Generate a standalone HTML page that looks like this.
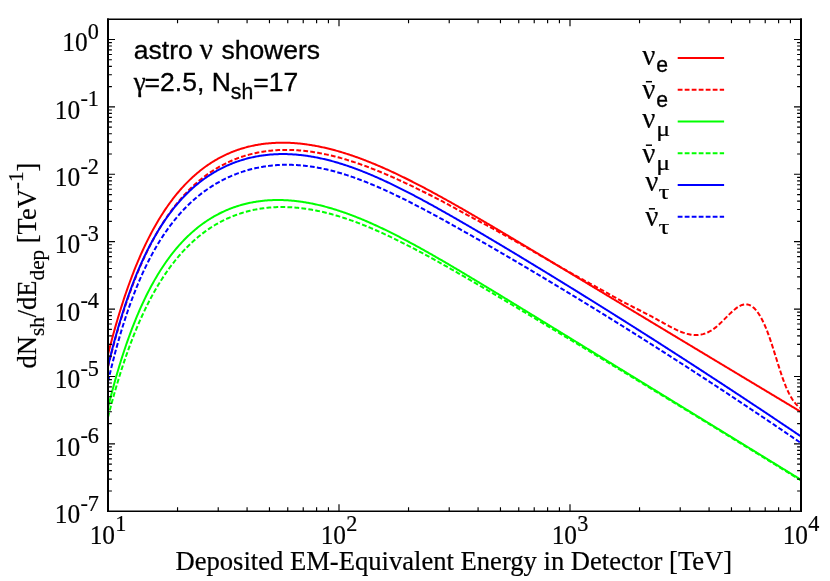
<!DOCTYPE html>
<html><head><meta charset="utf-8"><title>astro nu showers</title>
<style>
html,body{margin:0;padding:0;background:#fff;}
body{width:830px;height:581px;overflow:hidden;font-family:"Liberation Serif",serif;}
svg{display:block;}
text{fill:#000;stroke:#000;stroke-width:0.2px;}
.san text,.san{stroke-width:0.32px;}
.ser{font-family:"Liberation Serif",serif;}
.san{font-family:"Liberation Sans",sans-serif;}
</style></head><body>
<svg style="will-change:transform" width="830" height="581" viewBox="0 0 830 581">
<rect x="0" y="0" width="830" height="581" fill="#fff"/>
<defs><clipPath id="cp"><rect x="108.0" y="19.3" width="693.0" height="491.95"/></clipPath></defs>
<g clip-path="url(#cp)" fill="none" stroke-width="2" stroke-linejoin="round">
<path d="M108.0 354.48 L109.0 350.51 L110.0 346.61 L111.0 342.78 L112.0 339.02 L113.0 335.32 L114.0 331.69 L115.0 328.12 L116.0 324.62 L117.0 321.17 L118.0 317.79 L119.0 314.46 L120.0 311.19 L121.0 307.98 L122.0 304.83 L123.0 301.73 L124.0 298.68 L125.0 295.69 L126.0 292.74 L127.0 289.85 L128.0 287.01 L129.0 284.22 L130.0 281.47 L131.0 278.78 L132.0 276.12 L133.0 273.52 L134.0 270.96 L135.0 268.44 L136.0 265.96 L137.0 263.53 L138.0 261.14 L139.0 258.79 L140.0 256.48 L141.0 254.21 L142.0 251.97 L143.0 249.78 L144.0 247.62 L145.0 245.50 L146.0 243.42 L147.0 241.37 L148.0 239.35 L149.0 237.37 L150.0 235.43 L151.0 233.51 L152.0 231.63 L153.0 229.78 L154.0 227.96 L155.0 226.18 L156.0 224.42 L157.0 222.69 L158.0 220.99 L159.0 219.32 L160.0 217.68 L161.0 216.07 L162.0 214.49 L163.0 212.93 L164.0 211.39 L165.0 209.89 L166.0 208.41 L167.0 206.95 L168.0 205.52 L169.0 204.12 L170.0 202.74 L171.0 201.38 L172.0 200.04 L173.0 198.73 L174.0 197.44 L175.0 196.18 L176.0 194.93 L177.0 193.71 L178.0 192.51 L179.0 191.33 L180.0 190.17 L181.0 189.03 L182.0 187.90 L183.0 186.80 L184.0 185.72 L185.0 184.66 L186.0 183.62 L187.0 182.59 L188.0 181.59 L189.0 180.60 L190.0 179.63 L191.0 178.67 L192.0 177.74 L193.0 176.82 L194.0 175.92 L195.0 175.03 L196.0 174.16 L197.0 173.31 L198.0 172.47 L199.0 171.65 L200.0 170.84 L201.0 170.05 L202.0 169.27 L203.0 168.51 L204.0 167.76 L205.0 167.03 L206.0 166.31 L207.0 165.61 L208.0 164.91 L209.0 164.24 L210.0 163.57 L211.0 162.92 L212.0 162.28 L213.0 161.66 L214.0 161.05 L215.0 160.45 L216.0 159.86 L217.0 159.29 L218.0 158.72 L219.0 158.17 L220.0 157.64 L221.0 157.11 L222.0 156.59 L223.0 156.09 L224.0 155.60 L225.0 155.11 L226.0 154.64 L227.0 154.18 L228.0 153.73 L229.0 153.30 L230.0 152.87 L231.0 152.45 L232.0 152.04 L233.0 151.65 L234.0 151.26 L235.0 150.88 L236.0 150.52 L237.0 150.16 L238.0 149.81 L239.0 149.47 L240.0 149.14 L241.0 148.82 L242.0 148.51 L243.0 148.21 L244.0 147.92 L245.0 147.64 L246.0 147.36 L247.0 147.09 L248.0 146.84 L249.0 146.59 L250.0 146.35 L251.0 146.12 L252.0 145.89 L253.0 145.68 L254.0 145.47 L255.0 145.27 L256.0 145.08 L257.0 144.90 L258.0 144.72 L259.0 144.55 L260.0 144.39 L261.0 144.24 L262.0 144.10 L263.0 143.96 L264.0 143.83 L265.0 143.71 L266.0 143.59 L267.0 143.49 L268.0 143.39 L269.0 143.29 L270.0 143.21 L271.0 143.13 L272.0 143.05 L273.0 142.99 L274.0 142.93 L275.0 142.88 L276.0 142.83 L277.0 142.79 L278.0 142.76 L279.0 142.74 L280.0 142.72 L281.0 142.70 L282.0 142.70 L283.0 142.70 L284.0 142.70 L285.0 142.72 L286.0 142.73 L287.0 142.76 L288.0 142.79 L289.0 142.83 L290.0 142.87 L291.0 142.92 L292.0 142.97 L293.0 143.03 L294.0 143.10 L295.0 143.17 L296.0 143.25 L297.0 143.33 L298.0 143.42 L299.0 143.52 L300.0 143.62 L301.0 143.72 L302.0 143.84 L303.0 143.95 L304.0 144.07 L305.0 144.20 L306.0 144.33 L307.0 144.47 L308.0 144.62 L309.0 144.76 L310.0 144.92 L311.0 145.08 L312.0 145.24 L313.0 145.41 L314.0 145.58 L315.0 145.76 L316.0 145.95 L317.0 146.13 L318.0 146.33 L319.0 146.53 L320.0 146.73 L321.0 146.94 L322.0 147.15 L323.0 147.37 L324.0 147.59 L325.0 147.82 L326.0 148.05 L327.0 148.28 L328.0 148.52 L329.0 148.77 L330.0 149.02 L331.0 149.27 L332.0 149.53 L333.0 149.79 L334.0 150.06 L335.0 150.33 L336.0 150.60 L337.0 150.88 L338.0 151.16 L339.0 151.45 L340.0 151.74 L341.0 152.04 L342.0 152.34 L343.0 152.64 L344.0 152.95 L345.0 153.26 L346.0 153.58 L347.0 153.90 L348.0 154.22 L349.0 154.55 L350.0 154.88 L351.0 155.21 L352.0 155.55 L353.0 155.90 L354.0 156.24 L355.0 156.59 L356.0 156.94 L357.0 157.30 L358.0 157.66 L359.0 158.02 L360.0 158.39 L361.0 158.76 L362.0 159.14 L363.0 159.51 L364.0 159.89 L365.0 160.28 L366.0 160.66 L367.0 161.06 L368.0 161.45 L369.0 161.85 L370.0 162.25 L371.0 162.65 L372.0 163.06 L373.0 163.47 L374.0 163.88 L375.0 164.29 L376.0 164.71 L377.0 165.13 L378.0 165.56 L379.0 165.98 L380.0 166.41 L381.0 166.85 L382.0 167.28 L383.0 167.72 L384.0 168.16 L385.0 168.61 L386.0 169.05 L387.0 169.50 L388.0 169.95 L389.0 170.41 L390.0 170.87 L391.0 171.33 L392.0 171.79 L393.0 172.25 L394.0 172.72 L395.0 173.19 L396.0 173.66 L397.0 174.13 L398.0 174.61 L399.0 175.09 L400.0 175.57 L401.0 176.05 L402.0 176.54 L403.0 177.03 L404.0 177.52 L405.0 178.01 L406.0 178.50 L407.0 179.00 L408.0 179.50 L409.0 180.00 L410.0 180.50 L411.0 181.00 L412.0 181.51 L413.0 182.02 L414.0 182.53 L415.0 183.04 L416.0 183.55 L417.0 184.07 L418.0 184.58 L419.0 185.10 L420.0 185.62 L421.0 186.15 L422.0 186.67 L423.0 187.20 L424.0 187.72 L425.0 188.25 L426.0 188.78 L427.0 189.32 L428.0 189.85 L429.0 190.38 L430.0 190.92 L431.0 191.46 L432.0 192.00 L433.0 192.54 L434.0 193.08 L435.0 193.62 L436.0 194.17 L437.0 194.72 L438.0 195.26 L439.0 195.81 L440.0 196.36 L441.0 196.91 L442.0 197.47 L443.0 198.02 L444.0 198.58 L445.0 199.13 L446.0 199.69 L447.0 200.25 L448.0 200.81 L449.0 201.37 L450.0 201.93 L451.0 202.49 L452.0 203.06 L453.0 203.62 L454.0 204.19 L455.0 204.75 L456.0 205.32 L457.0 205.89 L458.0 206.46 L459.0 207.03 L460.0 207.60 L461.0 208.17 L462.0 208.74 L463.0 209.32 L464.0 209.89 L465.0 210.47 L466.0 211.04 L467.0 211.62 L468.0 212.20 L469.0 212.77 L470.0 213.35 L471.0 213.93 L472.0 214.51 L473.0 215.09 L474.0 215.67 L475.0 216.26 L476.0 216.84 L477.0 217.42 L478.0 218.01 L479.0 218.59 L480.0 219.17 L481.0 219.76 L482.0 220.35 L483.0 220.93 L484.0 221.52 L485.0 222.11 L486.0 222.70 L487.0 223.28 L488.0 223.87 L489.0 224.46 L490.0 225.05 L491.0 225.64 L492.0 226.23 L493.0 226.82 L494.0 227.42 L495.0 228.01 L496.0 228.60 L497.0 229.19 L498.0 229.78 L499.0 230.38 L500.0 230.97 L501.0 231.57 L502.0 232.16 L503.0 232.75 L504.0 233.35 L505.0 233.94 L506.0 234.54 L507.0 235.14 L508.0 235.73 L509.0 236.33 L510.0 236.92 L511.0 237.52 L512.0 238.12 L513.0 238.71 L514.0 239.31 L515.0 239.91 L516.0 240.51 L517.0 241.11 L518.0 241.70 L519.0 242.30 L520.0 242.90 L521.0 243.50 L522.0 244.10 L523.0 244.70 L524.0 245.30 L525.0 245.90 L526.0 246.50 L527.0 247.10 L528.0 247.70 L529.0 248.30 L530.0 248.90 L531.0 249.50 L532.0 250.10 L533.0 250.70 L534.0 251.30 L535.0 251.90 L536.0 252.50 L537.0 253.10 L538.0 253.70 L539.0 254.30 L540.0 254.90 L541.0 255.51 L542.0 256.11 L543.0 256.71 L544.0 257.31 L545.0 257.91 L546.0 258.51 L547.0 259.12 L548.0 259.72 L549.0 260.32 L550.0 260.92 L551.0 261.52 L552.0 262.13 L553.0 262.73 L554.0 263.33 L555.0 263.93 L556.0 264.53 L557.0 265.14 L558.0 265.74 L559.0 266.34 L560.0 266.94 L561.0 267.55 L562.0 268.15 L563.0 268.75 L564.0 269.35 L565.0 269.96 L566.0 270.56 L567.0 271.16 L568.0 271.76 L569.0 272.37 L570.0 272.97 L571.0 273.57 L572.0 274.18 L573.0 274.78 L574.0 275.38 L575.0 275.98 L576.0 276.59 L577.0 277.19 L578.0 277.79 L579.0 278.40 L580.0 279.00 L581.0 279.60 L582.0 280.20 L583.0 280.81 L584.0 281.41 L585.0 282.01 L586.0 282.62 L587.0 283.22 L588.0 283.82 L589.0 284.42 L590.0 285.03 L591.0 285.63 L592.0 286.23 L593.0 286.84 L594.0 287.44 L595.0 288.04 L596.0 288.64 L597.0 289.25 L598.0 289.85 L599.0 290.45 L600.0 291.06 L601.0 291.66 L602.0 292.26 L603.0 292.86 L604.0 293.47 L605.0 294.07 L606.0 294.67 L607.0 295.28 L608.0 295.88 L609.0 296.48 L610.0 297.08 L611.0 297.69 L612.0 298.29 L613.0 298.89 L614.0 299.49 L615.0 300.10 L616.0 300.70 L617.0 301.30 L618.0 301.91 L619.0 302.51 L620.0 303.11 L621.0 303.71 L622.0 304.32 L623.0 304.92 L624.0 305.52 L625.0 306.12 L626.0 306.73 L627.0 307.33 L628.0 307.93 L629.0 308.53 L630.0 309.14 L631.0 309.74 L632.0 310.34 L633.0 310.94 L634.0 311.55 L635.0 312.15 L636.0 312.75 L637.0 313.35 L638.0 313.96 L639.0 314.56 L640.0 315.16 L641.0 315.76 L642.0 316.37 L643.0 316.97 L644.0 317.57 L645.0 318.17 L646.0 318.77 L647.0 319.38 L648.0 319.98 L649.0 320.58 L650.0 321.18 L651.0 321.79 L652.0 322.39 L653.0 322.99 L654.0 323.59 L655.0 324.19 L656.0 324.80 L657.0 325.40 L658.0 326.00 L659.0 326.60 L660.0 327.21 L661.0 327.81 L662.0 328.41 L663.0 329.01 L664.0 329.61 L665.0 330.22 L666.0 330.82 L667.0 331.42 L668.0 332.02 L669.0 332.62 L670.0 333.22 L671.0 333.83 L672.0 334.43 L673.0 335.03 L674.0 335.63 L675.0 336.23 L676.0 336.84 L677.0 337.44 L678.0 338.04 L679.0 338.64 L680.0 339.24 L681.0 339.84 L682.0 340.45 L683.0 341.05 L684.0 341.65 L685.0 342.25 L686.0 342.85 L687.0 343.45 L688.0 344.06 L689.0 344.66 L690.0 345.26 L691.0 345.86 L692.0 346.46 L693.0 347.06 L694.0 347.67 L695.0 348.27 L696.0 348.87 L697.0 349.47 L698.0 350.07 L699.0 350.67 L700.0 351.27 L701.0 351.88 L702.0 352.48 L703.0 353.08 L704.0 353.68 L705.0 354.28 L706.0 354.88 L707.0 355.48 L708.0 356.08 L709.0 356.69 L710.0 357.29 L711.0 357.89 L712.0 358.49 L713.0 359.09 L714.0 359.69 L715.0 360.29 L716.0 360.89 L717.0 361.50 L718.0 362.10 L719.0 362.70 L720.0 363.30 L721.0 363.90 L722.0 364.50 L723.0 365.10 L724.0 365.70 L725.0 366.30 L726.0 366.90 L727.0 367.51 L728.0 368.11 L729.0 368.71 L730.0 369.31 L731.0 369.91 L732.0 370.51 L733.0 371.11 L734.0 371.71 L735.0 372.31 L736.0 372.91 L737.0 373.51 L738.0 374.11 L739.0 374.72 L740.0 375.32 L741.0 375.92 L742.0 376.52 L743.0 377.12 L744.0 377.72 L745.0 378.32 L746.0 378.92 L747.0 379.52 L748.0 380.12 L749.0 380.72 L750.0 381.32 L751.0 381.92 L752.0 382.52 L753.0 383.12 L754.0 383.72 L755.0 384.33 L756.0 384.93 L757.0 385.53 L758.0 386.13 L759.0 386.73 L760.0 387.33 L761.0 387.93 L762.0 388.53 L763.0 389.13 L764.0 389.73 L765.0 390.33 L766.0 390.93 L767.0 391.53 L768.0 392.13 L769.0 392.73 L770.0 393.33 L771.0 393.93 L772.0 394.53 L773.0 395.13 L774.0 395.73 L775.0 396.33 L776.0 396.93 L777.0 397.53 L778.0 398.13 L779.0 398.73 L780.0 399.33 L781.0 399.93 L782.0 400.53 L783.0 401.13 L784.0 401.73 L785.0 402.33 L786.0 402.93 L787.0 403.53 L788.0 404.13 L789.0 404.73 L790.0 405.33 L791.0 405.93 L792.0 406.53 L793.0 407.13 L794.0 407.73 L795.0 408.33 L796.0 408.93 L797.0 409.53 L798.0 410.13 L799.0 410.73 L800.0 411.33 L801.0 411.93" stroke="#f00"/>
<path d="M108.0 366.87 L109.0 362.80 L110.0 358.80 L111.0 354.87 L112.0 351.02 L113.0 347.23 L114.0 343.51 L115.0 339.86 L116.0 336.28 L117.0 332.76 L118.0 329.30 L119.0 325.91 L120.0 322.57 L121.0 319.30 L122.0 316.08 L123.0 312.92 L124.0 309.82 L125.0 306.77 L126.0 303.78 L127.0 300.83 L128.0 297.94 L129.0 295.10 L130.0 292.31 L131.0 289.57 L132.0 286.88 L133.0 284.23 L134.0 281.63 L135.0 279.08 L136.0 276.56 L137.0 274.10 L138.0 271.67 L139.0 269.29 L140.0 266.95 L141.0 264.64 L142.0 262.38 L143.0 260.16 L144.0 257.97 L145.0 255.83 L146.0 253.71 L147.0 251.64 L148.0 249.60 L149.0 247.59 L150.0 245.62 L151.0 243.69 L152.0 241.78 L153.0 239.91 L154.0 238.07 L155.0 236.26 L156.0 234.48 L157.0 232.74 L158.0 231.02 L159.0 229.33 L160.0 227.67 L161.0 226.04 L162.0 224.43 L163.0 222.85 L164.0 221.30 L165.0 219.78 L166.0 218.28 L167.0 216.80 L168.0 215.36 L169.0 213.93 L170.0 212.53 L171.0 211.16 L172.0 209.80 L173.0 208.47 L174.0 207.17 L175.0 205.88 L176.0 204.62 L177.0 203.38 L178.0 202.16 L179.0 200.96 L180.0 199.78 L181.0 198.62 L182.0 197.48 L183.0 196.36 L184.0 195.26 L185.0 194.18 L186.0 193.12 L187.0 192.07 L188.0 191.05 L189.0 190.04 L190.0 189.05 L191.0 188.08 L192.0 187.12 L193.0 186.18 L194.0 185.26 L195.0 184.35 L196.0 183.46 L197.0 182.59 L198.0 181.73 L199.0 180.89 L200.0 180.06 L201.0 179.25 L202.0 178.45 L203.0 177.67 L204.0 176.90 L205.0 176.15 L206.0 175.40 L207.0 174.68 L208.0 173.97 L209.0 173.27 L210.0 172.58 L211.0 171.91 L212.0 171.25 L213.0 170.60 L214.0 169.96 L215.0 169.34 L216.0 168.73 L217.0 168.13 L218.0 167.55 L219.0 166.97 L220.0 166.41 L221.0 165.86 L222.0 165.32 L223.0 164.79 L224.0 164.28 L225.0 163.77 L226.0 163.28 L227.0 162.79 L228.0 162.32 L229.0 161.86 L230.0 161.40 L231.0 160.96 L232.0 160.53 L233.0 160.11 L234.0 159.70 L235.0 159.29 L236.0 158.90 L237.0 158.52 L238.0 158.15 L239.0 157.78 L240.0 157.43 L241.0 157.08 L242.0 156.75 L243.0 156.42 L244.0 156.10 L245.0 155.80 L246.0 155.50 L247.0 155.20 L248.0 154.92 L249.0 154.65 L250.0 154.38 L251.0 154.13 L252.0 153.88 L253.0 153.64 L254.0 153.40 L255.0 153.18 L256.0 152.96 L257.0 152.75 L258.0 152.55 L259.0 152.36 L260.0 152.18 L261.0 152.00 L262.0 151.83 L263.0 151.67 L264.0 151.51 L265.0 151.37 L266.0 151.23 L267.0 151.10 L268.0 150.97 L269.0 150.85 L270.0 150.74 L271.0 150.64 L272.0 150.54 L273.0 150.45 L274.0 150.37 L275.0 150.29 L276.0 150.22 L277.0 150.16 L278.0 150.10 L279.0 150.06 L280.0 150.01 L281.0 149.98 L282.0 149.95 L283.0 149.92 L284.0 149.91 L285.0 149.90 L286.0 149.89 L287.0 149.89 L288.0 149.90 L289.0 149.92 L290.0 149.94 L291.0 149.96 L292.0 150.00 L293.0 150.04 L294.0 150.08 L295.0 150.13 L296.0 150.19 L297.0 150.25 L298.0 150.32 L299.0 150.39 L300.0 150.47 L301.0 150.56 L302.0 150.65 L303.0 150.74 L304.0 150.84 L305.0 150.95 L306.0 151.06 L307.0 151.18 L308.0 151.30 L309.0 151.43 L310.0 151.57 L311.0 151.71 L312.0 151.85 L313.0 152.00 L314.0 152.15 L315.0 152.31 L316.0 152.48 L317.0 152.65 L318.0 152.82 L319.0 153.00 L320.0 153.19 L321.0 153.37 L322.0 153.57 L323.0 153.77 L324.0 153.97 L325.0 154.18 L326.0 154.39 L327.0 154.61 L328.0 154.83 L329.0 155.06 L330.0 155.29 L331.0 155.52 L332.0 155.76 L333.0 156.01 L334.0 156.26 L335.0 156.51 L336.0 156.77 L337.0 157.03 L338.0 157.30 L339.0 157.57 L340.0 157.84 L341.0 158.12 L342.0 158.40 L343.0 158.69 L344.0 158.98 L345.0 159.27 L346.0 159.57 L347.0 159.87 L348.0 160.18 L349.0 160.49 L350.0 160.80 L351.0 161.12 L352.0 161.44 L353.0 161.76 L354.0 162.09 L355.0 162.42 L356.0 162.76 L357.0 163.10 L358.0 163.44 L359.0 163.79 L360.0 164.14 L361.0 164.49 L362.0 164.85 L363.0 165.21 L364.0 165.57 L365.0 165.93 L366.0 166.30 L367.0 166.68 L368.0 167.05 L369.0 167.43 L370.0 167.81 L371.0 168.20 L372.0 168.58 L373.0 168.97 L374.0 169.37 L375.0 169.76 L376.0 170.16 L377.0 170.56 L378.0 170.97 L379.0 171.38 L380.0 171.79 L381.0 172.20 L382.0 172.61 L383.0 173.03 L384.0 173.45 L385.0 173.88 L386.0 174.30 L387.0 174.73 L388.0 175.16 L389.0 175.59 L390.0 176.03 L391.0 176.47 L392.0 176.91 L393.0 177.35 L394.0 177.79 L395.0 178.24 L396.0 178.69 L397.0 179.14 L398.0 179.59 L399.0 180.05 L400.0 180.51 L401.0 180.97 L402.0 181.43 L403.0 181.89 L404.0 182.36 L405.0 182.82 L406.0 183.29 L407.0 183.76 L408.0 184.23 L409.0 184.71 L410.0 185.19 L411.0 185.66 L412.0 186.14 L413.0 186.62 L414.0 187.11 L415.0 187.59 L416.0 188.08 L417.0 188.56 L418.0 189.05 L419.0 189.54 L420.0 190.04 L421.0 190.53 L422.0 191.02 L423.0 191.52 L424.0 192.01 L425.0 192.51 L426.0 193.01 L427.0 193.51 L428.0 194.01 L429.0 194.51 L430.0 195.01 L431.0 195.51 L432.0 196.02 L433.0 196.53 L434.0 197.04 L435.0 197.55 L436.0 198.07 L437.0 198.58 L438.0 199.10 L439.0 199.62 L440.0 200.15 L441.0 200.67 L442.0 201.20 L443.0 201.73 L444.0 202.27 L445.0 202.80 L446.0 203.34 L447.0 203.88 L448.0 204.42 L449.0 204.96 L450.0 205.51 L451.0 206.05 L452.0 206.60 L453.0 207.14 L454.0 207.69 L455.0 208.24 L456.0 208.78 L457.0 209.33 L458.0 209.88 L459.0 210.43 L460.0 210.98 L461.0 211.52 L462.0 212.07 L463.0 212.62 L464.0 213.16 L465.0 213.71 L466.0 214.25 L467.0 214.79 L468.0 215.33 L469.0 215.87 L470.0 216.40 L471.0 216.94 L472.0 217.48 L473.0 218.01 L474.0 218.55 L475.0 219.08 L476.0 219.62 L477.0 220.15 L478.0 220.68 L479.0 221.22 L480.0 221.75 L481.0 222.28 L482.0 222.82 L483.0 223.35 L484.0 223.89 L485.0 224.42 L486.0 224.96 L487.0 225.49 L488.0 226.03 L489.0 226.57 L490.0 227.11 L491.0 227.65 L492.0 228.19 L493.0 228.73 L494.0 229.27 L495.0 229.82 L496.0 230.37 L497.0 230.91 L498.0 231.46 L499.0 232.02 L500.0 232.57 L501.0 233.13 L502.0 233.68 L503.0 234.24 L504.0 234.80 L505.0 235.36 L506.0 235.91 L507.0 236.47 L508.0 237.03 L509.0 237.59 L510.0 238.16 L511.0 238.72 L512.0 239.28 L513.0 239.84 L514.0 240.41 L515.0 240.97 L516.0 241.53 L517.0 242.10 L518.0 242.67 L519.0 243.23 L520.0 243.80 L521.0 244.37 L522.0 244.93 L523.0 245.50 L524.0 246.07 L525.0 246.64 L526.0 247.21 L527.0 247.78 L528.0 248.35 L529.0 248.92 L530.0 249.50 L531.0 250.07 L532.0 250.64 L533.0 251.22 L534.0 251.79 L535.0 252.37 L536.0 252.95 L537.0 253.53 L538.0 254.10 L539.0 254.68 L540.0 255.26 L541.0 255.84 L542.0 256.42 L543.0 257.00 L544.0 257.58 L545.0 258.16 L546.0 258.74 L547.0 259.32 L548.0 259.90 L549.0 260.48 L550.0 261.05 L551.0 261.63 L552.0 262.21 L553.0 262.78 L554.0 263.36 L555.0 263.93 L556.0 264.51 L557.0 265.08 L558.0 265.65 L559.0 266.22 L560.0 266.79 L561.0 267.37 L562.0 267.94 L563.0 268.51 L564.0 269.08 L565.0 269.64 L566.0 270.21 L567.0 270.78 L568.0 271.35 L569.0 271.92 L570.0 272.48 L571.0 273.05 L572.0 273.61 L573.0 274.17 L574.0 274.74 L575.0 275.30 L576.0 275.86 L577.0 276.42 L578.0 276.98 L579.0 277.54 L580.0 278.10 L581.0 278.65 L582.0 279.21 L583.0 279.75 L584.0 280.30 L585.0 280.84 L586.0 281.38 L587.0 281.92 L588.0 282.46 L589.0 283.00 L590.0 283.53 L591.0 284.07 L592.0 284.61 L593.0 285.14 L594.0 285.68 L595.0 286.22 L596.0 286.76 L597.0 287.31 L598.0 287.85 L599.0 288.40 L600.0 288.96 L601.0 289.51 L602.0 290.07 L603.0 290.63 L604.0 291.20 L605.0 291.76 L606.0 292.33 L607.0 292.89 L608.0 293.46 L609.0 294.03 L610.0 294.60 L611.0 295.17 L612.0 295.73 L613.0 296.30 L614.0 296.86 L615.0 297.43 L616.0 297.99 L617.0 298.55 L618.0 299.11 L619.0 299.66 L620.0 300.21 L621.0 300.76 L622.0 301.30 L623.0 301.83 L624.0 302.36 L625.0 302.89 L626.0 303.41 L627.0 303.93 L628.0 304.45 L629.0 304.96 L630.0 305.47 L631.0 305.98 L632.0 306.48 L633.0 306.99 L634.0 307.49 L635.0 307.99 L636.0 308.50 L637.0 309.00 L638.0 309.50 L639.0 310.00 L640.0 310.50 L641.0 311.01 L642.0 311.51 L643.0 312.02 L644.0 312.53 L645.0 313.04 L646.0 313.56 L647.0 314.08 L648.0 314.60 L649.0 315.13 L650.0 315.66 L651.0 316.20 L652.0 316.74 L653.0 317.28 L654.0 317.83 L655.0 318.37 L656.0 318.92 L657.0 319.47 L658.0 320.02 L659.0 320.57 L660.0 321.12 L661.0 321.66 L662.0 322.21 L663.0 322.75 L664.0 323.28 L665.0 323.82 L666.0 324.37 L667.0 324.92 L668.0 325.47 L669.0 326.01 L670.0 326.55 L671.0 327.08 L672.0 327.61 L673.0 328.12 L674.0 328.63 L675.0 329.13 L676.0 329.61 L677.0 330.08 L678.0 330.54 L679.0 330.98 L680.0 331.41 L681.0 331.82 L682.0 332.21 L683.0 332.58 L684.0 332.93 L685.0 333.26 L686.0 333.56 L687.0 333.84 L688.0 334.10 L689.0 334.32 L690.0 334.52 L691.0 334.70 L692.0 334.84 L693.0 334.95 L694.0 335.03 L695.0 335.08 L696.0 335.09 L697.0 335.06 L698.0 335.00 L699.0 334.91 L700.0 334.77 L701.0 334.59 L702.0 334.38 L703.0 334.12 L704.0 333.82 L705.0 333.49 L706.0 333.11 L707.0 332.69 L708.0 332.24 L709.0 331.74 L710.0 331.20 L711.0 330.62 L712.0 330.00 L713.0 329.34 L714.0 328.64 L715.0 327.90 L716.0 327.12 L717.0 326.30 L718.0 325.43 L719.0 324.53 L720.0 323.60 L721.0 322.64 L722.0 321.66 L723.0 320.67 L724.0 319.66 L725.0 318.64 L726.0 317.62 L727.0 316.61 L728.0 315.60 L729.0 314.60 L730.0 313.63 L731.0 312.67 L732.0 311.74 L733.0 310.85 L734.0 309.99 L735.0 309.17 L736.0 308.40 L737.0 307.68 L738.0 307.02 L739.0 306.42 L740.0 305.89 L741.0 305.42 L742.0 305.04 L743.0 304.73 L744.0 304.51 L745.0 304.38 L746.0 304.35 L747.0 304.42 L748.0 304.59 L749.0 304.87 L750.0 305.27 L751.0 305.79 L752.0 306.42 L753.0 307.18 L754.0 308.06 L755.0 309.06 L756.0 310.19 L757.0 311.43 L758.0 312.80 L759.0 314.29 L760.0 315.90 L761.0 317.64 L762.0 319.50 L763.0 321.48 L764.0 323.59 L765.0 325.82 L766.0 328.18 L767.0 330.67 L768.0 333.28 L769.0 336.01 L770.0 338.87 L771.0 341.82 L772.0 344.86 L773.0 347.97 L774.0 351.14 L775.0 354.33 L776.0 357.54 L777.0 360.75 L778.0 363.95 L779.0 367.11 L780.0 370.21 L781.0 373.25 L782.0 376.20 L783.0 379.05 L784.0 381.78 L785.0 384.37 L786.0 386.83 L787.0 389.14 L788.0 391.31 L789.0 393.36 L790.0 395.27 L791.0 397.05 L792.0 398.71 L793.0 400.24 L794.0 401.64 L795.0 402.93 L796.0 404.10 L797.0 405.16 L798.0 406.10 L799.0 406.93 L800.0 407.65 L801.0 408.27" stroke="#f00" stroke-dasharray="4.8 2.2"/>
<path d="M108.0 407.59 L109.0 403.55 L110.0 399.59 L111.0 395.71 L112.0 391.89 L113.0 388.15 L114.0 384.47 L115.0 380.87 L116.0 377.33 L117.0 373.85 L118.0 370.44 L119.0 367.09 L120.0 363.80 L121.0 360.57 L122.0 357.41 L123.0 354.29 L124.0 351.24 L125.0 348.24 L126.0 345.30 L127.0 342.40 L128.0 339.56 L129.0 336.78 L130.0 334.04 L131.0 331.35 L132.0 328.71 L133.0 326.11 L134.0 323.57 L135.0 321.07 L136.0 318.61 L137.0 316.19 L138.0 313.82 L139.0 311.50 L140.0 309.21 L141.0 306.96 L142.0 304.76 L143.0 302.59 L144.0 300.46 L145.0 298.37 L146.0 296.31 L147.0 294.29 L148.0 292.31 L149.0 290.36 L150.0 288.45 L151.0 286.57 L152.0 284.72 L153.0 282.91 L154.0 281.13 L155.0 279.37 L156.0 277.65 L157.0 275.96 L158.0 274.30 L159.0 272.67 L160.0 271.07 L161.0 269.49 L162.0 267.95 L163.0 266.43 L164.0 264.94 L165.0 263.47 L166.0 262.03 L167.0 260.61 L168.0 259.22 L169.0 257.86 L170.0 256.52 L171.0 255.20 L172.0 253.90 L173.0 252.63 L174.0 251.38 L175.0 250.16 L176.0 248.95 L177.0 247.77 L178.0 246.61 L179.0 245.46 L180.0 244.34 L181.0 243.24 L182.0 242.16 L183.0 241.10 L184.0 240.06 L185.0 239.03 L186.0 238.03 L187.0 237.04 L188.0 236.08 L189.0 235.13 L190.0 234.19 L191.0 233.28 L192.0 232.38 L193.0 231.50 L194.0 230.63 L195.0 229.78 L196.0 228.95 L197.0 228.13 L198.0 227.33 L199.0 226.55 L200.0 225.78 L201.0 225.02 L202.0 224.28 L203.0 223.55 L204.0 222.84 L205.0 222.14 L206.0 221.46 L207.0 220.79 L208.0 220.13 L209.0 219.49 L210.0 218.86 L211.0 218.24 L212.0 217.63 L213.0 217.04 L214.0 216.46 L215.0 215.90 L216.0 215.34 L217.0 214.80 L218.0 214.27 L219.0 213.75 L220.0 213.24 L221.0 212.75 L222.0 212.26 L223.0 211.79 L224.0 211.33 L225.0 210.88 L226.0 210.44 L227.0 210.01 L228.0 209.59 L229.0 209.18 L230.0 208.78 L231.0 208.39 L232.0 208.02 L233.0 207.65 L234.0 207.29 L235.0 206.94 L236.0 206.61 L237.0 206.28 L238.0 205.96 L239.0 205.65 L240.0 205.35 L241.0 205.06 L242.0 204.77 L243.0 204.50 L244.0 204.24 L245.0 203.98 L246.0 203.73 L247.0 203.50 L248.0 203.27 L249.0 203.05 L250.0 202.83 L251.0 202.63 L252.0 202.43 L253.0 202.25 L254.0 202.07 L255.0 201.90 L256.0 201.73 L257.0 201.58 L258.0 201.43 L259.0 201.29 L260.0 201.16 L261.0 201.03 L262.0 200.92 L263.0 200.81 L264.0 200.71 L265.0 200.61 L266.0 200.52 L267.0 200.44 L268.0 200.37 L269.0 200.31 L270.0 200.25 L271.0 200.20 L272.0 200.15 L273.0 200.11 L274.0 200.08 L275.0 200.06 L276.0 200.04 L277.0 200.03 L278.0 200.03 L279.0 200.03 L280.0 200.04 L281.0 200.06 L282.0 200.08 L283.0 200.11 L284.0 200.15 L285.0 200.19 L286.0 200.24 L287.0 200.29 L288.0 200.35 L289.0 200.42 L290.0 200.49 L291.0 200.57 L292.0 200.66 L293.0 200.75 L294.0 200.85 L295.0 200.95 L296.0 201.06 L297.0 201.17 L298.0 201.30 L299.0 201.42 L300.0 201.55 L301.0 201.69 L302.0 201.84 L303.0 201.98 L304.0 202.14 L305.0 202.30 L306.0 202.47 L307.0 202.64 L308.0 202.81 L309.0 202.99 L310.0 203.18 L311.0 203.37 L312.0 203.57 L313.0 203.78 L314.0 203.98 L315.0 204.20 L316.0 204.42 L317.0 204.64 L318.0 204.87 L319.0 205.10 L320.0 205.34 L321.0 205.58 L322.0 205.83 L323.0 206.08 L324.0 206.34 L325.0 206.60 L326.0 206.87 L327.0 207.14 L328.0 207.42 L329.0 207.70 L330.0 207.99 L331.0 208.28 L332.0 208.57 L333.0 208.87 L334.0 209.18 L335.0 209.49 L336.0 209.80 L337.0 210.12 L338.0 210.44 L339.0 210.76 L340.0 211.09 L341.0 211.43 L342.0 211.76 L343.0 212.11 L344.0 212.45 L345.0 212.80 L346.0 213.16 L347.0 213.52 L348.0 213.88 L349.0 214.24 L350.0 214.61 L351.0 214.99 L352.0 215.37 L353.0 215.75 L354.0 216.13 L355.0 216.52 L356.0 216.91 L357.0 217.31 L358.0 217.71 L359.0 218.11 L360.0 218.52 L361.0 218.93 L362.0 219.34 L363.0 219.76 L364.0 220.18 L365.0 220.61 L366.0 221.03 L367.0 221.46 L368.0 221.90 L369.0 222.33 L370.0 222.77 L371.0 223.22 L372.0 223.66 L373.0 224.11 L374.0 224.56 L375.0 225.02 L376.0 225.47 L377.0 225.94 L378.0 226.40 L379.0 226.87 L380.0 227.33 L381.0 227.81 L382.0 228.28 L383.0 228.76 L384.0 229.24 L385.0 229.72 L386.0 230.21 L387.0 230.69 L388.0 231.18 L389.0 231.68 L390.0 232.17 L391.0 232.67 L392.0 233.17 L393.0 233.67 L394.0 234.18 L395.0 234.68 L396.0 235.19 L397.0 235.70 L398.0 236.22 L399.0 236.73 L400.0 237.25 L401.0 237.77 L402.0 238.29 L403.0 238.81 L404.0 239.34 L405.0 239.87 L406.0 240.40 L407.0 240.93 L408.0 241.46 L409.0 242.00 L410.0 242.53 L411.0 243.07 L412.0 243.61 L413.0 244.15 L414.0 244.70 L415.0 245.24 L416.0 245.79 L417.0 246.34 L418.0 246.89 L419.0 247.44 L420.0 247.99 L421.0 248.55 L422.0 249.11 L423.0 249.66 L424.0 250.22 L425.0 250.78 L426.0 251.34 L427.0 251.91 L428.0 252.47 L429.0 253.04 L430.0 253.60 L431.0 254.17 L432.0 254.74 L433.0 255.31 L434.0 255.88 L435.0 256.46 L436.0 257.03 L437.0 257.60 L438.0 258.18 L439.0 258.76 L440.0 259.33 L441.0 259.91 L442.0 260.49 L443.0 261.07 L444.0 261.66 L445.0 262.24 L446.0 262.82 L447.0 263.41 L448.0 263.99 L449.0 264.58 L450.0 265.16 L451.0 265.75 L452.0 266.34 L453.0 266.93 L454.0 267.52 L455.0 268.11 L456.0 268.70 L457.0 269.29 L458.0 269.89 L459.0 270.48 L460.0 271.07 L461.0 271.67 L462.0 272.26 L463.0 272.86 L464.0 273.45 L465.0 274.05 L466.0 274.65 L467.0 275.25 L468.0 275.84 L469.0 276.44 L470.0 277.04 L471.0 277.64 L472.0 278.24 L473.0 278.84 L474.0 279.44 L475.0 280.05 L476.0 280.65 L477.0 281.25 L478.0 281.85 L479.0 282.46 L480.0 283.06 L481.0 283.66 L482.0 284.27 L483.0 284.87 L484.0 285.48 L485.0 286.08 L486.0 286.69 L487.0 287.29 L488.0 287.90 L489.0 288.51 L490.0 289.11 L491.0 289.72 L492.0 290.33 L493.0 290.93 L494.0 291.54 L495.0 292.15 L496.0 292.76 L497.0 293.37 L498.0 293.97 L499.0 294.58 L500.0 295.19 L501.0 295.80 L502.0 296.41 L503.0 297.02 L504.0 297.63 L505.0 298.24 L506.0 298.85 L507.0 299.46 L508.0 300.07 L509.0 300.68 L510.0 301.29 L511.0 301.90 L512.0 302.51 L513.0 303.12 L514.0 303.73 L515.0 304.34 L516.0 304.96 L517.0 305.57 L518.0 306.18 L519.0 306.79 L520.0 307.40 L521.0 308.01 L522.0 308.63 L523.0 309.24 L524.0 309.85 L525.0 310.46 L526.0 311.07 L527.0 311.69 L528.0 312.30 L529.0 312.91 L530.0 313.52 L531.0 314.13 L532.0 314.75 L533.0 315.36 L534.0 315.97 L535.0 316.59 L536.0 317.20 L537.0 317.81 L538.0 318.42 L539.0 319.04 L540.0 319.65 L541.0 320.26 L542.0 320.88 L543.0 321.49 L544.0 322.10 L545.0 322.71 L546.0 323.33 L547.0 323.94 L548.0 324.55 L549.0 325.17 L550.0 325.78 L551.0 326.39 L552.0 327.01 L553.0 327.62 L554.0 328.23 L555.0 328.85 L556.0 329.46 L557.0 330.07 L558.0 330.69 L559.0 331.30 L560.0 331.91 L561.0 332.53 L562.0 333.14 L563.0 333.75 L564.0 334.37 L565.0 334.98 L566.0 335.59 L567.0 336.21 L568.0 336.82 L569.0 337.44 L570.0 338.05 L571.0 338.66 L572.0 339.28 L573.0 339.89 L574.0 340.50 L575.0 341.12 L576.0 341.73 L577.0 342.34 L578.0 342.96 L579.0 343.57 L580.0 344.18 L581.0 344.80 L582.0 345.41 L583.0 346.03 L584.0 346.64 L585.0 347.25 L586.0 347.87 L587.0 348.48 L588.0 349.09 L589.0 349.71 L590.0 350.32 L591.0 350.93 L592.0 351.55 L593.0 352.16 L594.0 352.78 L595.0 353.39 L596.0 354.00 L597.0 354.62 L598.0 355.23 L599.0 355.84 L600.0 356.46 L601.0 357.07 L602.0 357.68 L603.0 358.30 L604.0 358.91 L605.0 359.53 L606.0 360.14 L607.0 360.75 L608.0 361.37 L609.0 361.98 L610.0 362.59 L611.0 363.21 L612.0 363.82 L613.0 364.44 L614.0 365.05 L615.0 365.66 L616.0 366.28 L617.0 366.89 L618.0 367.50 L619.0 368.12 L620.0 368.73 L621.0 369.34 L622.0 369.96 L623.0 370.57 L624.0 371.19 L625.0 371.80 L626.0 372.41 L627.0 373.03 L628.0 373.64 L629.0 374.25 L630.0 374.87 L631.0 375.48 L632.0 376.09 L633.0 376.71 L634.0 377.32 L635.0 377.94 L636.0 378.55 L637.0 379.16 L638.0 379.78 L639.0 380.39 L640.0 381.00 L641.0 381.62 L642.0 382.23 L643.0 382.84 L644.0 383.46 L645.0 384.07 L646.0 384.69 L647.0 385.30 L648.0 385.91 L649.0 386.53 L650.0 387.14 L651.0 387.75 L652.0 388.37 L653.0 388.98 L654.0 389.59 L655.0 390.21 L656.0 390.82 L657.0 391.44 L658.0 392.05 L659.0 392.66 L660.0 393.28 L661.0 393.89 L662.0 394.50 L663.0 395.12 L664.0 395.73 L665.0 396.34 L666.0 396.96 L667.0 397.57 L668.0 398.18 L669.0 398.80 L670.0 399.41 L671.0 400.03 L672.0 400.64 L673.0 401.25 L674.0 401.87 L675.0 402.48 L676.0 403.09 L677.0 403.71 L678.0 404.32 L679.0 404.93 L680.0 405.55 L681.0 406.16 L682.0 406.77 L683.0 407.39 L684.0 408.00 L685.0 408.61 L686.0 409.23 L687.0 409.84 L688.0 410.46 L689.0 411.07 L690.0 411.68 L691.0 412.30 L692.0 412.91 L693.0 413.52 L694.0 414.14 L695.0 414.75 L696.0 415.36 L697.0 415.98 L698.0 416.59 L699.0 417.20 L700.0 417.82 L701.0 418.43 L702.0 419.05 L703.0 419.66 L704.0 420.27 L705.0 420.89 L706.0 421.50 L707.0 422.11 L708.0 422.73 L709.0 423.34 L710.0 423.95 L711.0 424.57 L712.0 425.18 L713.0 425.79 L714.0 426.41 L715.0 427.02 L716.0 427.63 L717.0 428.25 L718.0 428.86 L719.0 429.47 L720.0 430.09 L721.0 430.70 L722.0 431.31 L723.0 431.93 L724.0 432.54 L725.0 433.16 L726.0 433.77 L727.0 434.38 L728.0 435.00 L729.0 435.61 L730.0 436.22 L731.0 436.84 L732.0 437.45 L733.0 438.06 L734.0 438.68 L735.0 439.29 L736.0 439.90 L737.0 440.52 L738.0 441.13 L739.0 441.74 L740.0 442.36 L741.0 442.97 L742.0 443.58 L743.0 444.20 L744.0 444.81 L745.0 445.42 L746.0 446.04 L747.0 446.65 L748.0 447.26 L749.0 447.88 L750.0 448.49 L751.0 449.11 L752.0 449.72 L753.0 450.33 L754.0 450.95 L755.0 451.56 L756.0 452.17 L757.0 452.79 L758.0 453.40 L759.0 454.01 L760.0 454.63 L761.0 455.24 L762.0 455.85 L763.0 456.47 L764.0 457.08 L765.0 457.69 L766.0 458.31 L767.0 458.92 L768.0 459.53 L769.0 460.15 L770.0 460.76 L771.0 461.37 L772.0 461.99 L773.0 462.60 L774.0 463.21 L775.0 463.83 L776.0 464.44 L777.0 465.05 L778.0 465.67 L779.0 466.28 L780.0 466.89 L781.0 467.51 L782.0 468.12 L783.0 468.73 L784.0 469.35 L785.0 469.96 L786.0 470.57 L787.0 471.19 L788.0 471.80 L789.0 472.41 L790.0 473.03 L791.0 473.64 L792.0 474.25 L793.0 474.87 L794.0 475.48 L795.0 476.09 L796.0 476.71 L797.0 477.32 L798.0 477.93 L799.0 478.55 L800.0 479.16 L801.0 479.77" stroke="#0f0"/>
<path d="M108.0 417.19 L109.0 413.27 L110.0 409.42 L111.0 405.63 L112.0 401.92 L113.0 398.26 L114.0 394.68 L115.0 391.15 L116.0 387.69 L117.0 384.29 L118.0 380.95 L119.0 377.67 L120.0 374.44 L121.0 371.27 L122.0 368.16 L123.0 365.10 L124.0 362.09 L125.0 359.13 L126.0 356.23 L127.0 353.38 L128.0 350.57 L129.0 347.82 L130.0 345.11 L131.0 342.44 L132.0 339.83 L133.0 337.26 L134.0 334.73 L135.0 332.24 L136.0 329.80 L137.0 327.40 L138.0 325.04 L139.0 322.72 L140.0 320.44 L141.0 318.19 L142.0 315.99 L143.0 313.82 L144.0 311.69 L145.0 309.59 L146.0 307.54 L147.0 305.51 L148.0 303.52 L149.0 301.56 L150.0 299.64 L151.0 297.75 L152.0 295.89 L153.0 294.06 L154.0 292.26 L155.0 290.49 L156.0 288.75 L157.0 287.04 L158.0 285.36 L159.0 283.71 L160.0 282.09 L161.0 280.49 L162.0 278.92 L163.0 277.37 L164.0 275.85 L165.0 274.36 L166.0 272.89 L167.0 271.45 L168.0 270.03 L169.0 268.64 L170.0 267.27 L171.0 265.92 L172.0 264.59 L173.0 263.29 L174.0 262.01 L175.0 260.75 L176.0 259.51 L177.0 258.30 L178.0 257.10 L179.0 255.93 L180.0 254.77 L181.0 253.64 L182.0 252.52 L183.0 251.42 L184.0 250.35 L185.0 249.29 L186.0 248.25 L187.0 247.22 L188.0 246.22 L189.0 245.23 L190.0 244.26 L191.0 243.31 L192.0 242.38 L193.0 241.46 L194.0 240.55 L195.0 239.67 L196.0 238.80 L197.0 237.94 L198.0 237.10 L199.0 236.28 L200.0 235.47 L201.0 234.68 L202.0 233.90 L203.0 233.13 L204.0 232.38 L205.0 231.65 L206.0 230.92 L207.0 230.22 L208.0 229.52 L209.0 228.84 L210.0 228.17 L211.0 227.52 L212.0 226.87 L213.0 226.24 L214.0 225.63 L215.0 225.02 L216.0 224.43 L217.0 223.85 L218.0 223.28 L219.0 222.73 L220.0 222.18 L221.0 221.65 L222.0 221.13 L223.0 220.62 L224.0 220.12 L225.0 219.63 L226.0 219.16 L227.0 218.69 L228.0 218.24 L229.0 217.79 L230.0 217.36 L231.0 216.94 L232.0 216.52 L233.0 216.12 L234.0 215.73 L235.0 215.34 L236.0 214.97 L237.0 214.61 L238.0 214.25 L239.0 213.91 L240.0 213.58 L241.0 213.25 L242.0 212.93 L243.0 212.63 L244.0 212.33 L245.0 212.04 L246.0 211.76 L247.0 211.49 L248.0 211.23 L249.0 210.98 L250.0 210.73 L251.0 210.49 L252.0 210.27 L253.0 210.05 L254.0 209.84 L255.0 209.63 L256.0 209.44 L257.0 209.25 L258.0 209.07 L259.0 208.90 L260.0 208.74 L261.0 208.59 L262.0 208.44 L263.0 208.30 L264.0 208.17 L265.0 208.04 L266.0 207.93 L267.0 207.82 L268.0 207.72 L269.0 207.62 L270.0 207.54 L271.0 207.46 L272.0 207.38 L273.0 207.32 L274.0 207.26 L275.0 207.21 L276.0 207.16 L277.0 207.12 L278.0 207.09 L279.0 207.07 L280.0 207.05 L281.0 207.04 L282.0 207.04 L283.0 207.04 L284.0 207.05 L285.0 207.07 L286.0 207.09 L287.0 207.12 L288.0 207.15 L289.0 207.19 L290.0 207.24 L291.0 207.29 L292.0 207.35 L293.0 207.42 L294.0 207.49 L295.0 207.57 L296.0 207.65 L297.0 207.74 L298.0 207.84 L299.0 207.94 L300.0 208.05 L301.0 208.16 L302.0 208.28 L303.0 208.40 L304.0 208.54 L305.0 208.67 L306.0 208.81 L307.0 208.96 L308.0 209.11 L309.0 209.27 L310.0 209.43 L311.0 209.60 L312.0 209.78 L313.0 209.96 L314.0 210.14 L315.0 210.33 L316.0 210.53 L317.0 210.73 L318.0 210.93 L319.0 211.14 L320.0 211.36 L321.0 211.58 L322.0 211.80 L323.0 212.03 L324.0 212.27 L325.0 212.51 L326.0 212.75 L327.0 213.00 L328.0 213.26 L329.0 213.52 L330.0 213.78 L331.0 214.05 L332.0 214.32 L333.0 214.60 L334.0 214.88 L335.0 215.17 L336.0 215.46 L337.0 215.75 L338.0 216.05 L339.0 216.36 L340.0 216.66 L341.0 216.98 L342.0 217.29 L343.0 217.61 L344.0 217.94 L345.0 218.26 L346.0 218.60 L347.0 218.93 L348.0 219.27 L349.0 219.62 L350.0 219.97 L351.0 220.32 L352.0 220.68 L353.0 221.04 L354.0 221.40 L355.0 221.77 L356.0 222.14 L357.0 222.51 L358.0 222.89 L359.0 223.27 L360.0 223.66 L361.0 224.05 L362.0 224.44 L363.0 224.83 L364.0 225.23 L365.0 225.63 L366.0 226.04 L367.0 226.45 L368.0 226.86 L369.0 227.28 L370.0 227.69 L371.0 228.11 L372.0 228.54 L373.0 228.97 L374.0 229.40 L375.0 229.83 L376.0 230.27 L377.0 230.71 L378.0 231.15 L379.0 231.59 L380.0 232.04 L381.0 232.49 L382.0 232.95 L383.0 233.40 L384.0 233.86 L385.0 234.32 L386.0 234.79 L387.0 235.25 L388.0 235.72 L389.0 236.19 L390.0 236.67 L391.0 237.14 L392.0 237.62 L393.0 238.10 L394.0 238.59 L395.0 239.07 L396.0 239.56 L397.0 240.05 L398.0 240.54 L399.0 241.04 L400.0 241.53 L401.0 242.03 L402.0 242.53 L403.0 243.04 L404.0 243.54 L405.0 244.05 L406.0 244.56 L407.0 245.07 L408.0 245.58 L409.0 246.09 L410.0 246.61 L411.0 247.13 L412.0 247.65 L413.0 248.17 L414.0 248.69 L415.0 249.22 L416.0 249.74 L417.0 250.27 L418.0 250.80 L419.0 251.33 L420.0 251.87 L421.0 252.40 L422.0 252.94 L423.0 253.47 L424.0 254.01 L425.0 254.55 L426.0 255.09 L427.0 255.64 L428.0 256.18 L429.0 256.73 L430.0 257.27 L431.0 257.82 L432.0 258.37 L433.0 258.92 L434.0 259.47 L435.0 260.03 L436.0 260.58 L437.0 261.13 L438.0 261.69 L439.0 262.25 L440.0 262.81 L441.0 263.37 L442.0 263.93 L443.0 264.49 L444.0 265.05 L445.0 265.61 L446.0 266.18 L447.0 266.74 L448.0 267.31 L449.0 267.88 L450.0 268.44 L451.0 269.01 L452.0 269.58 L453.0 270.15 L454.0 270.72 L455.0 271.30 L456.0 271.87 L457.0 272.44 L458.0 273.02 L459.0 273.59 L460.0 274.17 L461.0 274.74 L462.0 275.32 L463.0 275.90 L464.0 276.48 L465.0 277.05 L466.0 277.63 L467.0 278.21 L468.0 278.79 L469.0 279.38 L470.0 279.96 L471.0 280.54 L472.0 281.12 L473.0 281.71 L474.0 282.29 L475.0 282.87 L476.0 283.46 L477.0 284.04 L478.0 284.63 L479.0 285.22 L480.0 285.80 L481.0 286.39 L482.0 286.98 L483.0 287.56 L484.0 288.15 L485.0 288.74 L486.0 289.33 L487.0 289.92 L488.0 290.51 L489.0 291.10 L490.0 291.69 L491.0 292.28 L492.0 292.87 L493.0 293.46 L494.0 294.05 L495.0 294.64 L496.0 295.24 L497.0 295.83 L498.0 296.42 L499.0 297.02 L500.0 297.61 L501.0 298.20 L502.0 298.80 L503.0 299.39 L504.0 299.98 L505.0 300.58 L506.0 301.17 L507.0 301.77 L508.0 302.36 L509.0 302.96 L510.0 303.55 L511.0 304.15 L512.0 304.75 L513.0 305.34 L514.0 305.94 L515.0 306.54 L516.0 307.13 L517.0 307.73 L518.0 308.33 L519.0 308.92 L520.0 309.52 L521.0 310.12 L522.0 310.72 L523.0 311.31 L524.0 311.91 L525.0 312.51 L526.0 313.11 L527.0 313.71 L528.0 314.31 L529.0 314.90 L530.0 315.50 L531.0 316.10 L532.0 316.70 L533.0 317.30 L534.0 317.90 L535.0 318.50 L536.0 319.10 L537.0 319.70 L538.0 320.30 L539.0 320.90 L540.0 321.50 L541.0 322.10 L542.0 322.70 L543.0 323.30 L544.0 323.90 L545.0 324.50 L546.0 325.10 L547.0 325.70 L548.0 326.30 L549.0 326.90 L550.0 327.51 L551.0 328.11 L552.0 328.71 L553.0 329.31 L554.0 329.91 L555.0 330.51 L556.0 331.11 L557.0 331.72 L558.0 332.32 L559.0 332.92 L560.0 333.52 L561.0 334.12 L562.0 334.73 L563.0 335.33 L564.0 335.93 L565.0 336.53 L566.0 337.14 L567.0 337.74 L568.0 338.34 L569.0 338.94 L570.0 339.55 L571.0 340.15 L572.0 340.75 L573.0 341.35 L574.0 341.96 L575.0 342.56 L576.0 343.16 L577.0 343.77 L578.0 344.37 L579.0 344.97 L580.0 345.58 L581.0 346.18 L582.0 346.78 L583.0 347.39 L584.0 347.99 L585.0 348.60 L586.0 349.20 L587.0 349.80 L588.0 350.41 L589.0 351.01 L590.0 351.62 L591.0 352.22 L592.0 352.82 L593.0 353.43 L594.0 354.03 L595.0 354.64 L596.0 355.24 L597.0 355.85 L598.0 356.45 L599.0 357.06 L600.0 357.66 L601.0 358.27 L602.0 358.87 L603.0 359.48 L604.0 360.08 L605.0 360.69 L606.0 361.29 L607.0 361.90 L608.0 362.50 L609.0 363.11 L610.0 363.71 L611.0 364.32 L612.0 364.92 L613.0 365.53 L614.0 366.14 L615.0 366.74 L616.0 367.35 L617.0 367.95 L618.0 368.56 L619.0 369.16 L620.0 369.77 L621.0 370.38 L622.0 370.98 L623.0 371.59 L624.0 372.20 L625.0 372.80 L626.0 373.41 L627.0 374.02 L628.0 374.62 L629.0 375.23 L630.0 375.84 L631.0 376.44 L632.0 377.05 L633.0 377.66 L634.0 378.26 L635.0 378.87 L636.0 379.48 L637.0 380.08 L638.0 380.69 L639.0 381.30 L640.0 381.91 L641.0 382.51 L642.0 383.12 L643.0 383.73 L644.0 384.34 L645.0 384.94 L646.0 385.55 L647.0 386.16 L648.0 386.77 L649.0 387.38 L650.0 387.98 L651.0 388.59 L652.0 389.20 L653.0 389.81 L654.0 390.42 L655.0 391.02 L656.0 391.63 L657.0 392.24 L658.0 392.85 L659.0 393.46 L660.0 394.07 L661.0 394.68 L662.0 395.28 L663.0 395.89 L664.0 396.50 L665.0 397.11 L666.0 397.72 L667.0 398.33 L668.0 398.94 L669.0 399.55 L670.0 400.16 L671.0 400.77 L672.0 401.38 L673.0 401.98 L674.0 402.59 L675.0 403.20 L676.0 403.81 L677.0 404.42 L678.0 405.03 L679.0 405.64 L680.0 406.25 L681.0 406.86 L682.0 407.47 L683.0 408.08 L684.0 408.69 L685.0 409.30 L686.0 409.91 L687.0 410.52 L688.0 411.13 L689.0 411.74 L690.0 412.35 L691.0 412.97 L692.0 413.58 L693.0 414.19 L694.0 414.80 L695.0 415.41 L696.0 416.02 L697.0 416.63 L698.0 417.24 L699.0 417.85 L700.0 418.46 L701.0 419.07 L702.0 419.69 L703.0 420.30 L704.0 420.91 L705.0 421.52 L706.0 422.13 L707.0 422.74 L708.0 423.35 L709.0 423.97 L710.0 424.58 L711.0 425.19 L712.0 425.80 L713.0 426.41 L714.0 427.03 L715.0 427.64 L716.0 428.25 L717.0 428.86 L718.0 429.47 L719.0 430.09 L720.0 430.70 L721.0 431.31 L722.0 431.92 L723.0 432.54 L724.0 433.15 L725.0 433.76 L726.0 434.37 L727.0 434.99 L728.0 435.60 L729.0 436.21 L730.0 436.83 L731.0 437.44 L732.0 438.05 L733.0 438.67 L734.0 439.28 L735.0 439.89 L736.0 440.51 L737.0 441.12 L738.0 441.73 L739.0 442.35 L740.0 442.96 L741.0 443.57 L742.0 444.19 L743.0 444.80 L744.0 445.41 L745.0 446.03 L746.0 446.64 L747.0 447.26 L748.0 447.87 L749.0 448.49 L750.0 449.10 L751.0 449.71 L752.0 450.33 L753.0 450.94 L754.0 451.56 L755.0 452.17 L756.0 452.79 L757.0 453.40 L758.0 454.02 L759.0 454.63 L760.0 455.25 L761.0 455.86 L762.0 456.48 L763.0 457.09 L764.0 457.71 L765.0 458.32 L766.0 458.94 L767.0 459.55 L768.0 460.17 L769.0 460.78 L770.0 461.40 L771.0 462.01 L772.0 462.63 L773.0 463.24 L774.0 463.86 L775.0 464.48 L776.0 465.09 L777.0 465.71 L778.0 466.32 L779.0 466.94 L780.0 467.56 L781.0 468.17 L782.0 468.79 L783.0 469.41 L784.0 470.02 L785.0 470.64 L786.0 471.25 L787.0 471.87 L788.0 472.49 L789.0 473.10 L790.0 473.72 L791.0 474.34 L792.0 474.95 L793.0 475.57 L794.0 476.19 L795.0 476.81 L796.0 477.42 L797.0 478.04 L798.0 478.66 L799.0 479.27 L800.0 479.89 L801.0 480.51" stroke="#0f0" stroke-dasharray="4.8 2.2"/>
<path d="M108.0 366.20 L109.0 362.06 L110.0 358.00 L111.0 354.02 L112.0 350.12 L113.0 346.29 L114.0 342.54 L115.0 338.85 L116.0 335.24 L117.0 331.70 L118.0 328.22 L119.0 324.81 L120.0 321.46 L121.0 318.18 L122.0 314.96 L123.0 311.80 L124.0 308.70 L125.0 305.65 L126.0 302.67 L127.0 299.73 L128.0 296.86 L129.0 294.03 L130.0 291.26 L131.0 288.54 L132.0 285.87 L133.0 283.25 L134.0 280.67 L135.0 278.14 L136.0 275.66 L137.0 273.23 L138.0 270.83 L139.0 268.49 L140.0 266.18 L141.0 263.91 L142.0 261.69 L143.0 259.51 L144.0 257.36 L145.0 255.25 L146.0 253.19 L147.0 251.15 L148.0 249.16 L149.0 247.20 L150.0 245.27 L151.0 243.38 L152.0 241.52 L153.0 239.70 L154.0 237.90 L155.0 236.14 L156.0 234.41 L157.0 232.71 L158.0 231.04 L159.0 229.40 L160.0 227.79 L161.0 226.21 L162.0 224.65 L163.0 223.12 L164.0 221.62 L165.0 220.15 L166.0 218.70 L167.0 217.28 L168.0 215.88 L169.0 214.50 L170.0 213.15 L171.0 211.82 L172.0 210.52 L173.0 209.24 L174.0 207.98 L175.0 206.74 L176.0 205.53 L177.0 204.34 L178.0 203.16 L179.0 202.01 L180.0 200.88 L181.0 199.77 L182.0 198.68 L183.0 197.60 L184.0 196.55 L185.0 195.51 L186.0 194.50 L187.0 193.50 L188.0 192.52 L189.0 191.55 L190.0 190.61 L191.0 189.68 L192.0 188.76 L193.0 187.87 L194.0 186.99 L195.0 186.12 L196.0 185.28 L197.0 184.44 L198.0 183.62 L199.0 182.82 L200.0 182.03 L201.0 181.26 L202.0 180.50 L203.0 179.76 L204.0 179.03 L205.0 178.31 L206.0 177.61 L207.0 176.92 L208.0 176.24 L209.0 175.57 L210.0 174.92 L211.0 174.29 L212.0 173.66 L213.0 173.05 L214.0 172.45 L215.0 171.86 L216.0 171.28 L217.0 170.71 L218.0 170.16 L219.0 169.62 L220.0 169.09 L221.0 168.57 L222.0 168.06 L223.0 167.56 L224.0 167.07 L225.0 166.60 L226.0 166.13 L227.0 165.68 L228.0 165.23 L229.0 164.80 L230.0 164.37 L231.0 163.96 L232.0 163.55 L233.0 163.16 L234.0 162.77 L235.0 162.39 L236.0 162.03 L237.0 161.67 L238.0 161.32 L239.0 160.98 L240.0 160.65 L241.0 160.33 L242.0 160.02 L243.0 159.72 L244.0 159.43 L245.0 159.14 L246.0 158.86 L247.0 158.59 L248.0 158.34 L249.0 158.08 L250.0 157.84 L251.0 157.61 L252.0 157.38 L253.0 157.16 L254.0 156.95 L255.0 156.75 L256.0 156.55 L257.0 156.36 L258.0 156.19 L259.0 156.01 L260.0 155.85 L261.0 155.69 L262.0 155.55 L263.0 155.40 L264.0 155.27 L265.0 155.14 L266.0 155.02 L267.0 154.91 L268.0 154.81 L269.0 154.71 L270.0 154.62 L271.0 154.54 L272.0 154.46 L273.0 154.39 L274.0 154.33 L275.0 154.27 L276.0 154.22 L277.0 154.18 L278.0 154.14 L279.0 154.12 L280.0 154.09 L281.0 154.08 L282.0 154.07 L283.0 154.07 L284.0 154.07 L285.0 154.08 L286.0 154.10 L287.0 154.12 L288.0 154.15 L289.0 154.18 L290.0 154.23 L291.0 154.27 L292.0 154.33 L293.0 154.39 L294.0 154.45 L295.0 154.53 L296.0 154.60 L297.0 154.69 L298.0 154.78 L299.0 154.88 L300.0 154.98 L301.0 155.08 L302.0 155.20 L303.0 155.32 L304.0 155.44 L305.0 155.57 L306.0 155.71 L307.0 155.85 L308.0 156.00 L309.0 156.15 L310.0 156.31 L311.0 156.47 L312.0 156.64 L313.0 156.82 L314.0 156.99 L315.0 157.18 L316.0 157.37 L317.0 157.57 L318.0 157.77 L319.0 157.97 L320.0 158.18 L321.0 158.40 L322.0 158.62 L323.0 158.85 L324.0 159.08 L325.0 159.31 L326.0 159.55 L327.0 159.80 L328.0 160.05 L329.0 160.30 L330.0 160.56 L331.0 160.83 L332.0 161.10 L333.0 161.37 L334.0 161.65 L335.0 161.93 L336.0 162.22 L337.0 162.51 L338.0 162.81 L339.0 163.11 L340.0 163.42 L341.0 163.73 L342.0 164.04 L343.0 164.36 L344.0 164.68 L345.0 165.01 L346.0 165.34 L347.0 165.67 L348.0 166.01 L349.0 166.36 L350.0 166.70 L351.0 167.05 L352.0 167.41 L353.0 167.77 L354.0 168.13 L355.0 168.50 L356.0 168.87 L357.0 169.24 L358.0 169.62 L359.0 170.00 L360.0 170.38 L361.0 170.77 L362.0 171.16 L363.0 171.56 L364.0 171.96 L365.0 172.36 L366.0 172.77 L367.0 173.18 L368.0 173.59 L369.0 174.00 L370.0 174.42 L371.0 174.84 L372.0 175.27 L373.0 175.70 L374.0 176.13 L375.0 176.56 L376.0 177.00 L377.0 177.44 L378.0 177.88 L379.0 178.33 L380.0 178.78 L381.0 179.23 L382.0 179.69 L383.0 180.14 L384.0 180.60 L385.0 181.07 L386.0 181.53 L387.0 182.00 L388.0 182.47 L389.0 182.94 L390.0 183.42 L391.0 183.90 L392.0 184.38 L393.0 184.86 L394.0 185.34 L395.0 185.83 L396.0 186.32 L397.0 186.81 L398.0 187.31 L399.0 187.80 L400.0 188.30 L401.0 188.80 L402.0 189.30 L403.0 189.81 L404.0 190.32 L405.0 190.82 L406.0 191.33 L407.0 191.85 L408.0 192.36 L409.0 192.88 L410.0 193.40 L411.0 193.91 L412.0 194.44 L413.0 194.96 L414.0 195.48 L415.0 196.01 L416.0 196.54 L417.0 197.07 L418.0 197.60 L419.0 198.13 L420.0 198.67 L421.0 199.20 L422.0 199.74 L423.0 200.28 L424.0 200.82 L425.0 201.36 L426.0 201.91 L427.0 202.45 L428.0 203.00 L429.0 203.54 L430.0 204.09 L431.0 204.64 L432.0 205.19 L433.0 205.74 L434.0 206.30 L435.0 206.85 L436.0 207.41 L437.0 207.96 L438.0 208.52 L439.0 209.08 L440.0 209.64 L441.0 210.20 L442.0 210.76 L443.0 211.32 L444.0 211.89 L445.0 212.45 L446.0 213.02 L447.0 213.58 L448.0 214.15 L449.0 214.72 L450.0 215.29 L451.0 215.86 L452.0 216.43 L453.0 217.00 L454.0 217.57 L455.0 218.15 L456.0 218.72 L457.0 219.30 L458.0 219.87 L459.0 220.45 L460.0 221.03 L461.0 221.60 L462.0 222.18 L463.0 222.76 L464.0 223.34 L465.0 223.92 L466.0 224.50 L467.0 225.08 L468.0 225.67 L469.0 226.25 L470.0 226.83 L471.0 227.42 L472.0 228.00 L473.0 228.59 L474.0 229.17 L475.0 229.76 L476.0 230.34 L477.0 230.93 L478.0 231.52 L479.0 232.11 L480.0 232.70 L481.0 233.29 L482.0 233.88 L483.0 234.47 L484.0 235.06 L485.0 235.65 L486.0 236.24 L487.0 236.83 L488.0 237.42 L489.0 238.02 L490.0 238.61 L491.0 239.20 L492.0 239.80 L493.0 240.39 L494.0 240.99 L495.0 241.58 L496.0 242.18 L497.0 242.77 L498.0 243.37 L499.0 243.97 L500.0 244.56 L501.0 245.16 L502.0 245.76 L503.0 246.36 L504.0 246.96 L505.0 247.55 L506.0 248.15 L507.0 248.75 L508.0 249.35 L509.0 249.95 L510.0 250.55 L511.0 251.16 L512.0 251.76 L513.0 252.36 L514.0 252.96 L515.0 253.56 L516.0 254.16 L517.0 254.77 L518.0 255.37 L519.0 255.97 L520.0 256.58 L521.0 257.18 L522.0 257.79 L523.0 258.39 L524.0 259.00 L525.0 259.60 L526.0 260.21 L527.0 260.81 L528.0 261.42 L529.0 262.02 L530.0 262.63 L531.0 263.24 L532.0 263.85 L533.0 264.45 L534.0 265.06 L535.0 265.67 L536.0 266.28 L537.0 266.89 L538.0 267.49 L539.0 268.10 L540.0 268.71 L541.0 269.32 L542.0 269.93 L543.0 270.54 L544.0 271.15 L545.0 271.76 L546.0 272.37 L547.0 272.99 L548.0 273.60 L549.0 274.21 L550.0 274.82 L551.0 275.43 L552.0 276.05 L553.0 276.66 L554.0 277.27 L555.0 277.89 L556.0 278.50 L557.0 279.11 L558.0 279.73 L559.0 280.34 L560.0 280.96 L561.0 281.57 L562.0 282.19 L563.0 282.80 L564.0 283.42 L565.0 284.03 L566.0 284.65 L567.0 285.27 L568.0 285.88 L569.0 286.50 L570.0 287.12 L571.0 287.73 L572.0 288.35 L573.0 288.97 L574.0 289.59 L575.0 290.21 L576.0 290.83 L577.0 291.44 L578.0 292.06 L579.0 292.68 L580.0 293.30 L581.0 293.92 L582.0 294.54 L583.0 295.16 L584.0 295.78 L585.0 296.41 L586.0 297.03 L587.0 297.65 L588.0 298.27 L589.0 298.89 L590.0 299.51 L591.0 300.14 L592.0 300.76 L593.0 301.38 L594.0 302.01 L595.0 302.63 L596.0 303.25 L597.0 303.88 L598.0 304.50 L599.0 305.13 L600.0 305.75 L601.0 306.38 L602.0 307.00 L603.0 307.63 L604.0 308.25 L605.0 308.88 L606.0 309.50 L607.0 310.13 L608.0 310.76 L609.0 311.39 L610.0 312.01 L611.0 312.64 L612.0 313.27 L613.0 313.90 L614.0 314.52 L615.0 315.15 L616.0 315.78 L617.0 316.41 L618.0 317.04 L619.0 317.67 L620.0 318.30 L621.0 318.93 L622.0 319.56 L623.0 320.19 L624.0 320.82 L625.0 321.45 L626.0 322.08 L627.0 322.72 L628.0 323.35 L629.0 323.98 L630.0 324.61 L631.0 325.24 L632.0 325.88 L633.0 326.51 L634.0 327.14 L635.0 327.78 L636.0 328.41 L637.0 329.04 L638.0 329.68 L639.0 330.31 L640.0 330.95 L641.0 331.58 L642.0 332.22 L643.0 332.85 L644.0 333.49 L645.0 334.13 L646.0 334.76 L647.0 335.40 L648.0 336.04 L649.0 336.67 L650.0 337.31 L651.0 337.95 L652.0 338.59 L653.0 339.22 L654.0 339.86 L655.0 340.50 L656.0 341.14 L657.0 341.78 L658.0 342.42 L659.0 343.06 L660.0 343.70 L661.0 344.34 L662.0 344.98 L663.0 345.62 L664.0 346.26 L665.0 346.90 L666.0 347.54 L667.0 348.18 L668.0 348.83 L669.0 349.47 L670.0 350.11 L671.0 350.75 L672.0 351.40 L673.0 352.04 L674.0 352.68 L675.0 353.33 L676.0 353.97 L677.0 354.61 L678.0 355.26 L679.0 355.90 L680.0 356.55 L681.0 357.19 L682.0 357.84 L683.0 358.48 L684.0 359.13 L685.0 359.78 L686.0 360.42 L687.0 361.07 L688.0 361.72 L689.0 362.36 L690.0 363.01 L691.0 363.66 L692.0 364.31 L693.0 364.95 L694.0 365.60 L695.0 366.25 L696.0 366.90 L697.0 367.55 L698.0 368.20 L699.0 368.85 L700.0 369.50 L701.0 370.15 L702.0 370.80 L703.0 371.45 L704.0 372.10 L705.0 372.75 L706.0 373.40 L707.0 374.05 L708.0 374.71 L709.0 375.36 L710.0 376.01 L711.0 376.66 L712.0 377.32 L713.0 377.97 L714.0 378.62 L715.0 379.28 L716.0 379.93 L717.0 380.58 L718.0 381.24 L719.0 381.89 L720.0 382.55 L721.0 383.20 L722.0 383.86 L723.0 384.51 L724.0 385.17 L725.0 385.83 L726.0 386.48 L727.0 387.14 L728.0 387.80 L729.0 388.45 L730.0 389.11 L731.0 389.77 L732.0 390.43 L733.0 391.09 L734.0 391.74 L735.0 392.40 L736.0 393.06 L737.0 393.72 L738.0 394.38 L739.0 395.04 L740.0 395.70 L741.0 396.36 L742.0 397.02 L743.0 397.68 L744.0 398.34 L745.0 399.00 L746.0 399.66 L747.0 400.33 L748.0 400.99 L749.0 401.65 L750.0 402.31 L751.0 402.98 L752.0 403.64 L753.0 404.30 L754.0 404.97 L755.0 405.63 L756.0 406.29 L757.0 406.96 L758.0 407.62 L759.0 408.29 L760.0 408.95 L761.0 409.62 L762.0 410.28 L763.0 410.95 L764.0 411.61 L765.0 412.28 L766.0 412.95 L767.0 413.61 L768.0 414.28 L769.0 414.95 L770.0 415.61 L771.0 416.28 L772.0 416.95 L773.0 417.62 L774.0 418.29 L775.0 418.96 L776.0 419.62 L777.0 420.29 L778.0 420.96 L779.0 421.63 L780.0 422.30 L781.0 422.97 L782.0 423.64 L783.0 424.31 L784.0 424.99 L785.0 425.66 L786.0 426.33 L787.0 427.00 L788.0 427.67 L789.0 428.34 L790.0 429.02 L791.0 429.69 L792.0 430.36 L793.0 431.04 L794.0 431.71 L795.0 432.38 L796.0 433.06 L797.0 433.73 L798.0 434.41 L799.0 435.08 L800.0 435.76 L801.0 436.43" stroke="#00f"/>
<path d="M108.0 381.66 L109.0 377.36 L110.0 373.15 L111.0 369.03 L112.0 364.99 L113.0 361.03 L114.0 357.15 L115.0 353.35 L116.0 349.62 L117.0 345.97 L118.0 342.40 L119.0 338.89 L120.0 335.46 L121.0 332.09 L122.0 328.79 L123.0 325.55 L124.0 322.38 L125.0 319.27 L126.0 316.22 L127.0 313.23 L128.0 310.29 L129.0 307.42 L130.0 304.60 L131.0 301.83 L132.0 299.12 L133.0 296.45 L134.0 293.84 L135.0 291.28 L136.0 288.77 L137.0 286.30 L138.0 283.88 L139.0 281.51 L140.0 279.17 L141.0 276.89 L142.0 274.64 L143.0 272.44 L144.0 270.28 L145.0 268.16 L146.0 266.07 L147.0 264.03 L148.0 262.02 L149.0 260.05 L150.0 258.11 L151.0 256.21 L152.0 254.35 L153.0 252.51 L154.0 250.72 L155.0 248.95 L156.0 247.21 L157.0 245.51 L158.0 243.84 L159.0 242.19 L160.0 240.58 L161.0 238.99 L162.0 237.43 L163.0 235.90 L164.0 234.40 L165.0 232.92 L166.0 231.47 L167.0 230.05 L168.0 228.65 L169.0 227.27 L170.0 225.92 L171.0 224.59 L172.0 223.29 L173.0 222.01 L174.0 220.75 L175.0 219.51 L176.0 218.29 L177.0 217.10 L178.0 215.92 L179.0 214.77 L180.0 213.64 L181.0 212.52 L182.0 211.43 L183.0 210.35 L184.0 209.30 L185.0 208.26 L186.0 207.24 L187.0 206.23 L188.0 205.25 L189.0 204.28 L190.0 203.33 L191.0 202.39 L192.0 201.47 L193.0 200.57 L194.0 199.68 L195.0 198.81 L196.0 197.96 L197.0 197.12 L198.0 196.29 L199.0 195.48 L200.0 194.68 L201.0 193.90 L202.0 193.13 L203.0 192.38 L204.0 191.63 L205.0 190.91 L206.0 190.19 L207.0 189.49 L208.0 188.80 L209.0 188.12 L210.0 187.46 L211.0 186.81 L212.0 186.17 L213.0 185.54 L214.0 184.92 L215.0 184.32 L216.0 183.72 L217.0 183.14 L218.0 182.57 L219.0 182.01 L220.0 181.46 L221.0 180.92 L222.0 180.40 L223.0 179.88 L224.0 179.37 L225.0 178.88 L226.0 178.39 L227.0 177.92 L228.0 177.45 L229.0 176.99 L230.0 176.55 L231.0 176.11 L232.0 175.68 L233.0 175.27 L234.0 174.86 L235.0 174.46 L236.0 174.07 L237.0 173.69 L238.0 173.32 L239.0 172.95 L240.0 172.60 L241.0 172.26 L242.0 171.92 L243.0 171.59 L244.0 171.27 L245.0 170.96 L246.0 170.66 L247.0 170.36 L248.0 170.08 L249.0 169.80 L250.0 169.53 L251.0 169.27 L252.0 169.01 L253.0 168.77 L254.0 168.53 L255.0 168.30 L256.0 168.08 L257.0 167.86 L258.0 167.66 L259.0 167.46 L260.0 167.27 L261.0 167.08 L262.0 166.90 L263.0 166.74 L264.0 166.57 L265.0 166.42 L266.0 166.27 L267.0 166.13 L268.0 166.00 L269.0 165.87 L270.0 165.75 L271.0 165.64 L272.0 165.54 L273.0 165.44 L274.0 165.35 L275.0 165.27 L276.0 165.19 L277.0 165.12 L278.0 165.06 L279.0 165.00 L280.0 164.95 L281.0 164.91 L282.0 164.87 L283.0 164.84 L284.0 164.82 L285.0 164.80 L286.0 164.79 L287.0 164.79 L288.0 164.79 L289.0 164.80 L290.0 164.82 L291.0 164.84 L292.0 164.87 L293.0 164.90 L294.0 164.94 L295.0 164.99 L296.0 165.04 L297.0 165.10 L298.0 165.17 L299.0 165.24 L300.0 165.32 L301.0 165.40 L302.0 165.49 L303.0 165.59 L304.0 165.69 L305.0 165.80 L306.0 165.91 L307.0 166.03 L308.0 166.15 L309.0 166.28 L310.0 166.42 L311.0 166.56 L312.0 166.71 L313.0 166.86 L314.0 167.02 L315.0 167.19 L316.0 167.36 L317.0 167.53 L318.0 167.71 L319.0 167.90 L320.0 168.09 L321.0 168.29 L322.0 168.49 L323.0 168.70 L324.0 168.91 L325.0 169.13 L326.0 169.35 L327.0 169.58 L328.0 169.81 L329.0 170.05 L330.0 170.30 L331.0 170.54 L332.0 170.80 L333.0 171.06 L334.0 171.32 L335.0 171.59 L336.0 171.86 L337.0 172.14 L338.0 172.42 L339.0 172.70 L340.0 172.99 L341.0 173.29 L342.0 173.59 L343.0 173.90 L344.0 174.20 L345.0 174.52 L346.0 174.84 L347.0 175.16 L348.0 175.48 L349.0 175.81 L350.0 176.15 L351.0 176.49 L352.0 176.83 L353.0 177.18 L354.0 177.53 L355.0 177.88 L356.0 178.24 L357.0 178.60 L358.0 178.97 L359.0 179.34 L360.0 179.72 L361.0 180.09 L362.0 180.47 L363.0 180.86 L364.0 181.25 L365.0 181.64 L366.0 182.03 L367.0 182.43 L368.0 182.84 L369.0 183.24 L370.0 183.65 L371.0 184.06 L372.0 184.48 L373.0 184.90 L374.0 185.32 L375.0 185.74 L376.0 186.17 L377.0 186.60 L378.0 187.04 L379.0 187.47 L380.0 187.91 L381.0 188.35 L382.0 188.80 L383.0 189.25 L384.0 189.70 L385.0 190.15 L386.0 190.61 L387.0 191.06 L388.0 191.52 L389.0 191.99 L390.0 192.45 L391.0 192.92 L392.0 193.39 L393.0 193.87 L394.0 194.34 L395.0 194.82 L396.0 195.30 L397.0 195.78 L398.0 196.26 L399.0 196.75 L400.0 197.24 L401.0 197.73 L402.0 198.22 L403.0 198.72 L404.0 199.21 L405.0 199.71 L406.0 200.21 L407.0 200.71 L408.0 201.22 L409.0 201.72 L410.0 202.23 L411.0 202.74 L412.0 203.25 L413.0 203.76 L414.0 204.27 L415.0 204.79 L416.0 205.30 L417.0 205.82 L418.0 206.34 L419.0 206.86 L420.0 207.39 L421.0 207.91 L422.0 208.44 L423.0 208.96 L424.0 209.49 L425.0 210.02 L426.0 210.55 L427.0 211.08 L428.0 211.62 L429.0 212.15 L430.0 212.69 L431.0 213.22 L432.0 213.76 L433.0 214.30 L434.0 214.84 L435.0 215.38 L436.0 215.92 L437.0 216.47 L438.0 217.01 L439.0 217.55 L440.0 218.10 L441.0 218.65 L442.0 219.20 L443.0 219.74 L444.0 220.29 L445.0 220.84 L446.0 221.40 L447.0 221.95 L448.0 222.50 L449.0 223.06 L450.0 223.61 L451.0 224.17 L452.0 224.72 L453.0 225.28 L454.0 225.84 L455.0 226.39 L456.0 226.95 L457.0 227.51 L458.0 228.07 L459.0 228.64 L460.0 229.20 L461.0 229.76 L462.0 230.32 L463.0 230.89 L464.0 231.45 L465.0 232.02 L466.0 232.58 L467.0 233.15 L468.0 233.71 L469.0 234.28 L470.0 234.85 L471.0 235.42 L472.0 235.99 L473.0 236.56 L474.0 237.13 L475.0 237.70 L476.0 238.27 L477.0 238.84 L478.0 239.41 L479.0 239.98 L480.0 240.56 L481.0 241.13 L482.0 241.70 L483.0 242.28 L484.0 242.85 L485.0 243.43 L486.0 244.00 L487.0 244.58 L488.0 245.16 L489.0 245.74 L490.0 246.31 L491.0 246.89 L492.0 247.47 L493.0 248.05 L494.0 248.63 L495.0 249.21 L496.0 249.79 L497.0 250.37 L498.0 250.95 L499.0 251.53 L500.0 252.11 L501.0 252.69 L502.0 253.28 L503.0 253.86 L504.0 254.44 L505.0 255.03 L506.0 255.61 L507.0 256.20 L508.0 256.78 L509.0 257.37 L510.0 257.95 L511.0 258.54 L512.0 259.12 L513.0 259.71 L514.0 260.30 L515.0 260.89 L516.0 261.47 L517.0 262.06 L518.0 262.65 L519.0 263.24 L520.0 263.83 L521.0 264.42 L522.0 265.01 L523.0 265.60 L524.0 266.19 L525.0 266.78 L526.0 267.37 L527.0 267.96 L528.0 268.56 L529.0 269.15 L530.0 269.74 L531.0 270.33 L532.0 270.93 L533.0 271.52 L534.0 272.12 L535.0 272.71 L536.0 273.31 L537.0 273.90 L538.0 274.50 L539.0 275.09 L540.0 275.69 L541.0 276.29 L542.0 276.88 L543.0 277.48 L544.0 278.08 L545.0 278.68 L546.0 279.28 L547.0 279.88 L548.0 280.47 L549.0 281.07 L550.0 281.67 L551.0 282.27 L552.0 282.88 L553.0 283.48 L554.0 284.08 L555.0 284.68 L556.0 285.28 L557.0 285.88 L558.0 286.49 L559.0 287.09 L560.0 287.69 L561.0 288.30 L562.0 288.90 L563.0 289.50 L564.0 290.11 L565.0 290.71 L566.0 291.32 L567.0 291.93 L568.0 292.53 L569.0 293.14 L570.0 293.75 L571.0 294.35 L572.0 294.96 L573.0 295.57 L574.0 296.18 L575.0 296.78 L576.0 297.39 L577.0 298.00 L578.0 298.61 L579.0 299.22 L580.0 299.83 L581.0 300.44 L582.0 301.05 L583.0 301.67 L584.0 302.28 L585.0 302.89 L586.0 303.50 L587.0 304.11 L588.0 304.73 L589.0 305.34 L590.0 305.95 L591.0 306.57 L592.0 307.18 L593.0 307.80 L594.0 308.41 L595.0 309.03 L596.0 309.64 L597.0 310.26 L598.0 310.88 L599.0 311.49 L600.0 312.11 L601.0 312.73 L602.0 313.34 L603.0 313.96 L604.0 314.58 L605.0 315.20 L606.0 315.82 L607.0 316.44 L608.0 317.06 L609.0 317.68 L610.0 318.30 L611.0 318.92 L612.0 319.54 L613.0 320.16 L614.0 320.78 L615.0 321.41 L616.0 322.03 L617.0 322.65 L618.0 323.28 L619.0 323.90 L620.0 324.52 L621.0 325.15 L622.0 325.77 L623.0 326.40 L624.0 327.02 L625.0 327.65 L626.0 328.27 L627.0 328.90 L628.0 329.53 L629.0 330.15 L630.0 330.78 L631.0 331.41 L632.0 332.04 L633.0 332.67 L634.0 333.29 L635.0 333.92 L636.0 334.55 L637.0 335.18 L638.0 335.81 L639.0 336.44 L640.0 337.07 L641.0 337.71 L642.0 338.34 L643.0 338.97 L644.0 339.60 L645.0 340.23 L646.0 340.87 L647.0 341.50 L648.0 342.13 L649.0 342.77 L650.0 343.40 L651.0 344.04 L652.0 344.67 L653.0 345.31 L654.0 345.94 L655.0 346.58 L656.0 347.21 L657.0 347.85 L658.0 348.49 L659.0 349.12 L660.0 349.76 L661.0 350.40 L662.0 351.04 L663.0 351.68 L664.0 352.32 L665.0 352.96 L666.0 353.59 L667.0 354.24 L668.0 354.88 L669.0 355.52 L670.0 356.16 L671.0 356.80 L672.0 357.44 L673.0 358.08 L674.0 358.72 L675.0 359.37 L676.0 360.01 L677.0 360.65 L678.0 361.30 L679.0 361.94 L680.0 362.59 L681.0 363.23 L682.0 363.88 L683.0 364.52 L684.0 365.17 L685.0 365.81 L686.0 366.46 L687.0 367.11 L688.0 367.76 L689.0 368.40 L690.0 369.05 L691.0 369.70 L692.0 370.35 L693.0 371.00 L694.0 371.65 L695.0 372.30 L696.0 372.95 L697.0 373.60 L698.0 374.25 L699.0 374.90 L700.0 375.55 L701.0 376.20 L702.0 376.85 L703.0 377.50 L704.0 378.16 L705.0 378.81 L706.0 379.46 L707.0 380.12 L708.0 380.77 L709.0 381.43 L710.0 382.08 L711.0 382.74 L712.0 383.39 L713.0 384.05 L714.0 384.70 L715.0 385.36 L716.0 386.02 L717.0 386.67 L718.0 387.33 L719.0 387.99 L720.0 388.65 L721.0 389.31 L722.0 389.96 L723.0 390.62 L724.0 391.28 L725.0 391.94 L726.0 392.60 L727.0 393.26 L728.0 393.93 L729.0 394.59 L730.0 395.25 L731.0 395.91 L732.0 396.57 L733.0 397.24 L734.0 397.90 L735.0 398.56 L736.0 399.23 L737.0 399.89 L738.0 400.55 L739.0 401.22 L740.0 401.88 L741.0 402.55 L742.0 403.21 L743.0 403.88 L744.0 404.55 L745.0 405.21 L746.0 405.88 L747.0 406.55 L748.0 407.22 L749.0 407.88 L750.0 408.55 L751.0 409.22 L752.0 409.89 L753.0 410.56 L754.0 411.23 L755.0 411.90 L756.0 412.57 L757.0 413.24 L758.0 413.91 L759.0 414.58 L760.0 415.26 L761.0 415.93 L762.0 416.60 L763.0 417.27 L764.0 417.95 L765.0 418.62 L766.0 419.29 L767.0 419.97 L768.0 420.64 L769.0 421.32 L770.0 421.99 L771.0 422.67 L772.0 423.35 L773.0 424.02 L774.0 424.70 L775.0 425.38 L776.0 426.05 L777.0 426.73 L778.0 427.41 L779.0 428.09 L780.0 428.77 L781.0 429.44 L782.0 430.12 L783.0 430.80 L784.0 431.48 L785.0 432.16 L786.0 432.85 L787.0 433.53 L788.0 434.21 L789.0 434.89 L790.0 435.57 L791.0 436.25 L792.0 436.94 L793.0 437.62 L794.0 438.30 L795.0 438.99 L796.0 439.67 L797.0 440.36 L798.0 441.04 L799.0 441.73 L800.0 442.41 L801.0 443.10" stroke="#00f" stroke-dasharray="4.8 2.2"/>
</g>
<path d="M177.54 511.25 v-3.9 M177.54 19.3 v3.9 M218.22 511.25 v-3.9 M218.22 19.3 v3.9 M247.08 511.25 v-3.9 M247.08 19.3 v3.9 M269.46 511.25 v-3.9 M269.46 19.3 v3.9 M287.75 511.25 v-3.9 M287.75 19.3 v3.9 M303.22 511.25 v-3.9 M303.22 19.3 v3.9 M316.61 511.25 v-3.9 M316.61 19.3 v3.9 M328.43 511.25 v-3.9 M328.43 19.3 v3.9 M339.00 511.25 v-7.0 M339.00 19.3 v7.0 M408.54 511.25 v-3.9 M408.54 19.3 v3.9 M449.22 511.25 v-3.9 M449.22 19.3 v3.9 M478.08 511.25 v-3.9 M478.08 19.3 v3.9 M500.46 511.25 v-3.9 M500.46 19.3 v3.9 M518.75 511.25 v-3.9 M518.75 19.3 v3.9 M534.22 511.25 v-3.9 M534.22 19.3 v3.9 M547.61 511.25 v-3.9 M547.61 19.3 v3.9 M559.43 511.25 v-3.9 M559.43 19.3 v3.9 M570.00 511.25 v-7.0 M570.00 19.3 v7.0 M639.54 511.25 v-3.9 M639.54 19.3 v3.9 M680.22 511.25 v-3.9 M680.22 19.3 v3.9 M709.08 511.25 v-3.9 M709.08 19.3 v3.9 M731.46 511.25 v-3.9 M731.46 19.3 v3.9 M749.75 511.25 v-3.9 M749.75 19.3 v3.9 M765.22 511.25 v-3.9 M765.22 19.3 v3.9 M778.61 511.25 v-3.9 M778.61 19.3 v3.9 M790.43 511.25 v-3.9 M790.43 19.3 v3.9 M108.0 39.50 h7.0 M801.0 39.50 h-7.0 M108.0 106.89 h7.0 M801.0 106.89 h-7.0 M108.0 86.61 h3.9 M801.0 86.61 h-3.9 M108.0 74.74 h3.9 M801.0 74.74 h-3.9 M108.0 66.32 h3.9 M801.0 66.32 h-3.9 M108.0 59.79 h3.9 M801.0 59.79 h-3.9 M108.0 54.45 h3.9 M801.0 54.45 h-3.9 M108.0 49.94 h3.9 M801.0 49.94 h-3.9 M108.0 46.03 h3.9 M801.0 46.03 h-3.9 M108.0 42.58 h3.9 M801.0 42.58 h-3.9 M108.0 174.29 h7.0 M801.0 174.29 h-7.0 M108.0 154.00 h3.9 M801.0 154.00 h-3.9 M108.0 142.13 h3.9 M801.0 142.13 h-3.9 M108.0 133.71 h3.9 M801.0 133.71 h-3.9 M108.0 127.18 h3.9 M801.0 127.18 h-3.9 M108.0 121.84 h3.9 M801.0 121.84 h-3.9 M108.0 117.33 h3.9 M801.0 117.33 h-3.9 M108.0 113.42 h3.9 M801.0 113.42 h-3.9 M108.0 109.98 h3.9 M801.0 109.98 h-3.9 M108.0 241.68 h7.0 M801.0 241.68 h-7.0 M108.0 221.39 h3.9 M801.0 221.39 h-3.9 M108.0 209.52 h3.9 M801.0 209.52 h-3.9 M108.0 201.10 h3.9 M801.0 201.10 h-3.9 M108.0 194.57 h3.9 M801.0 194.57 h-3.9 M108.0 189.24 h3.9 M801.0 189.24 h-3.9 M108.0 184.72 h3.9 M801.0 184.72 h-3.9 M108.0 180.82 h3.9 M801.0 180.82 h-3.9 M108.0 177.37 h3.9 M801.0 177.37 h-3.9 M108.0 309.07 h7.0 M801.0 309.07 h-7.0 M108.0 288.78 h3.9 M801.0 288.78 h-3.9 M108.0 276.92 h3.9 M801.0 276.92 h-3.9 M108.0 268.50 h3.9 M801.0 268.50 h-3.9 M108.0 261.97 h3.9 M801.0 261.97 h-3.9 M108.0 256.63 h3.9 M801.0 256.63 h-3.9 M108.0 252.12 h3.9 M801.0 252.12 h-3.9 M108.0 248.21 h3.9 M801.0 248.21 h-3.9 M108.0 244.76 h3.9 M801.0 244.76 h-3.9 M108.0 376.46 h7.0 M801.0 376.46 h-7.0 M108.0 356.18 h3.9 M801.0 356.18 h-3.9 M108.0 344.31 h3.9 M801.0 344.31 h-3.9 M108.0 335.89 h3.9 M801.0 335.89 h-3.9 M108.0 329.36 h3.9 M801.0 329.36 h-3.9 M108.0 324.02 h3.9 M801.0 324.02 h-3.9 M108.0 319.51 h3.9 M801.0 319.51 h-3.9 M108.0 315.60 h3.9 M801.0 315.60 h-3.9 M108.0 312.16 h3.9 M801.0 312.16 h-3.9 M108.0 443.86 h7.0 M801.0 443.86 h-7.0 M108.0 423.57 h3.9 M801.0 423.57 h-3.9 M108.0 411.70 h3.9 M801.0 411.70 h-3.9 M108.0 403.28 h3.9 M801.0 403.28 h-3.9 M108.0 396.75 h3.9 M801.0 396.75 h-3.9 M108.0 391.42 h3.9 M801.0 391.42 h-3.9 M108.0 386.90 h3.9 M801.0 386.90 h-3.9 M108.0 383.00 h3.9 M801.0 383.00 h-3.9 M108.0 379.55 h3.9 M801.0 379.55 h-3.9 M108.0 490.96 h3.9 M801.0 490.96 h-3.9 M108.0 479.10 h3.9 M801.0 479.10 h-3.9 M108.0 470.68 h3.9 M801.0 470.68 h-3.9 M108.0 464.14 h3.9 M801.0 464.14 h-3.9 M108.0 458.81 h3.9 M801.0 458.81 h-3.9 M108.0 454.30 h3.9 M801.0 454.30 h-3.9 M108.0 450.39 h3.9 M801.0 450.39 h-3.9 M108.0 446.94 h3.9 M801.0 446.94 h-3.9" stroke="#000" stroke-width="1.15" fill="none"/>
<path d="M108.0 18.6 V512.0 M801.0 18.6 V512.0" stroke="#000" stroke-width="2" fill="none"/>
<path d="M107.0 19.3 H802.0" stroke="#000" stroke-width="1.4" fill="none"/>
<path d="M107.0 511.25 H802.0" stroke="#000" stroke-width="1.5" fill="none"/>
<g class="ser" font-size="26.5">
<text x="98.9" y="51.1" text-anchor="end"><tspan textLength="25.4" lengthAdjust="spacingAndGlyphs">10</tspan><tspan dx="0.2" dy="-12.4" font-size="22.2">0</tspan></text>
<text x="98.9" y="118.5" text-anchor="end"><tspan textLength="25.4" lengthAdjust="spacingAndGlyphs">10</tspan><tspan dx="0.2" dy="-12.4" font-size="22.2">-1</tspan></text>
<text x="98.9" y="185.9" text-anchor="end"><tspan textLength="25.4" lengthAdjust="spacingAndGlyphs">10</tspan><tspan dx="0.2" dy="-12.4" font-size="22.2">-2</tspan></text>
<text x="98.9" y="253.3" text-anchor="end"><tspan textLength="25.4" lengthAdjust="spacingAndGlyphs">10</tspan><tspan dx="0.2" dy="-12.4" font-size="22.2">-3</tspan></text>
<text x="98.9" y="320.7" text-anchor="end"><tspan textLength="25.4" lengthAdjust="spacingAndGlyphs">10</tspan><tspan dx="0.2" dy="-12.4" font-size="22.2">-4</tspan></text>
<text x="98.9" y="388.1" text-anchor="end"><tspan textLength="25.4" lengthAdjust="spacingAndGlyphs">10</tspan><tspan dx="0.2" dy="-12.4" font-size="22.2">-5</tspan></text>
<text x="98.9" y="455.5" text-anchor="end"><tspan textLength="25.4" lengthAdjust="spacingAndGlyphs">10</tspan><tspan dx="0.2" dy="-12.4" font-size="22.2">-6</tspan></text>
<text x="98.9" y="522.9" text-anchor="end"><tspan textLength="25.4" lengthAdjust="spacingAndGlyphs">10</tspan><tspan dx="0.2" dy="-12.4" font-size="22.2">-7</tspan></text>
<text x="108.0" y="544.2" text-anchor="middle"><tspan textLength="25.4" lengthAdjust="spacingAndGlyphs">10</tspan><tspan dx="0.2" dy="-13.4" font-size="22.2">1</tspan></text>
<text x="339.0" y="544.2" text-anchor="middle"><tspan textLength="25.4" lengthAdjust="spacingAndGlyphs">10</tspan><tspan dx="0.2" dy="-13.4" font-size="22.2">2</tspan></text>
<text x="570.0" y="544.2" text-anchor="middle"><tspan textLength="25.4" lengthAdjust="spacingAndGlyphs">10</tspan><tspan dx="0.2" dy="-13.4" font-size="22.2">3</tspan></text>
<text x="801.0" y="544.2" text-anchor="middle"><tspan textLength="25.4" lengthAdjust="spacingAndGlyphs">10</tspan><tspan dx="0.2" dy="-13.4" font-size="22.2">4</tspan></text>

<text x="453.8" y="570.2" text-anchor="middle" font-size="26.6">Deposited EM-Equivalent Energy in Detector [TeV]</text>
<text transform="translate(36.3 265.6) rotate(-90)" text-anchor="middle" font-size="26.5">dN<tspan dy="8" font-size="21.2">sh</tspan><tspan dy="-8">/dE</tspan><tspan dy="8" font-size="21.2">dep</tspan><tspan dy="-8"> [TeV</tspan><tspan dy="-13.6" font-size="21.2">-1</tspan><tspan dy="13.6">]</tspan></text>
</g>
<g class="san" font-size="26.5">
<text x="133.8" y="58.5">astro</text><text class="ser" x="199.8" y="58.5" font-size="29">ν</text><text x="221.4" y="58.5">showers</text>
<text class="ser" x="133.8" y="91.3" font-size="27">γ</text><text x="144.6" y="91.3">=2.5, N<tspan dy="7.7" font-size="21.2">sh</tspan><tspan dy="-7.7">=17</tspan></text>
</g>
<path d="M677.7 57.90 H724.1" stroke="#f00" stroke-width="2" fill="none"/>
<text class="ser" x="642.2" y="64.8" font-size="29">ν</text><text class="san" transform="translate(656.3 72.2) scale(1.0 1)" font-size="21.2">e</text>
<path d="M677.7 89.66 H724.1" stroke="#f00" stroke-width="2" stroke-dasharray="4.8 2.2" fill="none"/>
<text class="ser" x="642.2" y="99.1" font-size="29">ν</text><text class="san" transform="translate(656.3 106.5) scale(1.0 1)" font-size="21.2">e</text>
<path d="M645.9 81.7 h6.1" stroke="#000" stroke-width="1.5" fill="none"/>
<path d="M677.7 121.42 H724.1" stroke="#0f0" stroke-width="2" fill="none"/>
<text class="ser" x="642.2" y="128.2" font-size="29">ν</text><text class="ser" transform="translate(656.2 135.8) scale(1.22 1)" font-size="21.2" stroke="none">μ</text>
<path d="M677.7 153.18 H724.1" stroke="#0f0" stroke-width="2" stroke-dasharray="4.8 2.2" fill="none"/>
<text class="ser" x="642.2" y="162.6" font-size="29">ν</text><text class="ser" transform="translate(656.2 170.2) scale(1.22 1)" font-size="21.2" stroke="none">μ</text>
<path d="M645.9 145.2 h6.1" stroke="#000" stroke-width="1.5" fill="none"/>
<path d="M677.7 184.94 H724.1" stroke="#00f" stroke-width="2" fill="none"/>
<text class="ser" x="645.2" y="190.8" font-size="29">ν</text><text class="ser" transform="translate(658.6 198.7) scale(1.28 1)" font-size="21.2" stroke="none">τ</text>
<path d="M677.7 216.70 H724.1" stroke="#00f" stroke-width="2" stroke-dasharray="4.8 2.2" fill="none"/>
<text class="ser" x="645.2" y="226.2" font-size="29">ν</text><text class="ser" transform="translate(658.6 234.1) scale(1.28 1)" font-size="21.2" stroke="none">τ</text>
<path d="M648.9 208.8 h6.1" stroke="#000" stroke-width="1.5" fill="none"/>

</svg>
</body></html>
